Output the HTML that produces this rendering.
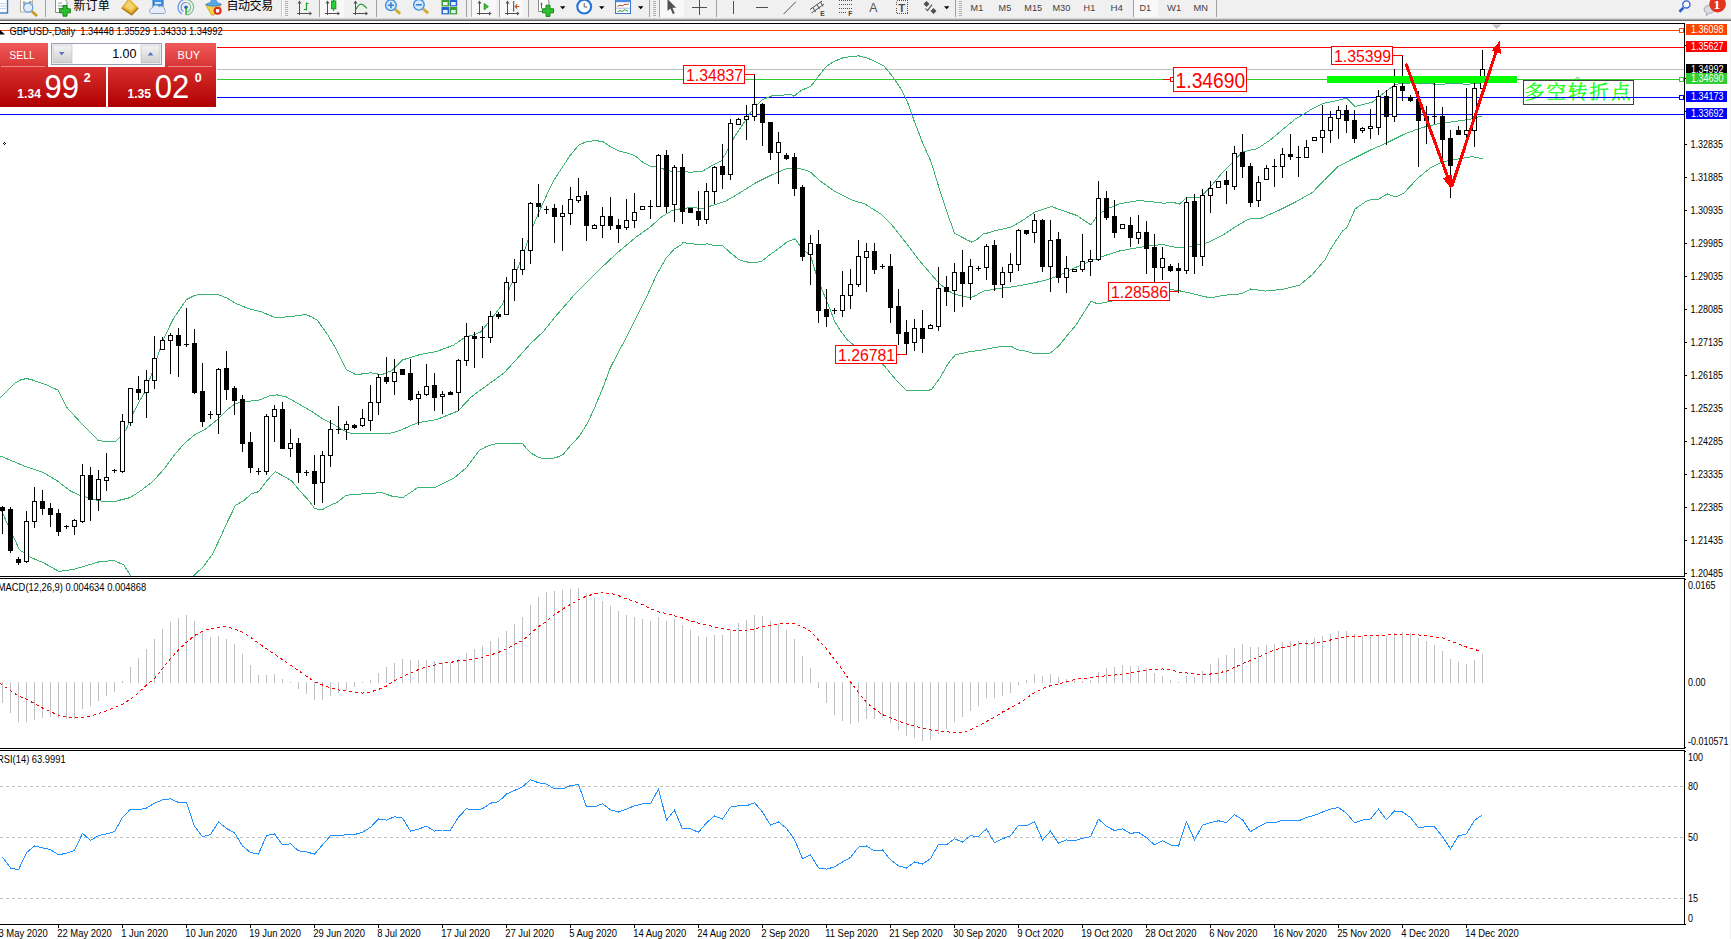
<!DOCTYPE html>
<html lang="zh"><head><meta charset="utf-8"><title>GBPUSD Daily</title>
<style>
html,body{margin:0;padding:0;background:#fff;}
body{width:1731px;height:939px;overflow:hidden;position:relative;font-family:"Liberation Sans","Noto Sans CJK SC",sans-serif;}
svg{position:absolute;left:0;top:0;display:block;}
.ax{font-family:"Liberation Sans",sans-serif;font-size:10.2px;fill:#000;}
.axw{font-family:"Liberation Sans",sans-serif;font-size:10.2px;fill:#fff;}
.cj{font-family:"Liberation Sans","Noto Sans CJK SC",sans-serif;}
</style></head><body>
<svg width="1731" height="939" viewBox="0 0 1731 939">
<rect x="0" y="0" width="1731" height="939" fill="#fff"/>
<defs><clipPath id="cm"><rect x="0" y="24" width="1684" height="552"/></clipPath><clipPath id="cmacd"><rect x="0" y="579" width="1684" height="169"/></clipPath><clipPath id="crsi"><rect x="0" y="751" width="1684" height="173"/></clipPath></defs>
<g shape-rendering="crispEdges">
<rect x="0" y="30" width="1684" height="1" fill="#ff4500"/>
<rect x="0" y="47" width="1684" height="1" fill="#ff0000"/>
<rect x="0" y="69" width="1684" height="1" fill="#c0c0c0"/>
<rect x="0" y="79" width="1684" height="1" fill="#32cd32"/>
<rect x="0" y="97" width="1684" height="1" fill="#0000ff"/>
<rect x="0" y="114" width="1684" height="1" fill="#0000ff"/>
</g>
<g clip-path="url(#cm)" shape-rendering="crispEdges">
<polyline fill="none" stroke="#3cb371" stroke-width="1"  points="-1.5,399.5 0.5,397.5 8.5,389.5 14.5,383.5 20.5,380 26.5,378.5 32.5,380 45.5,384.5 58,390.1 66.5,407.1 82.5,424.5 98.5,440.8 115.5,441.8 119.5,437.5 126.2,429.5 133.5,412.5 141.8,397 145.5,391.1 152.5,371.5 163.1,339.5 173.7,318.2 186.5,299.5 195,295.2 205.7,294.3 218.5,294.8 227,298 235.5,303.3 248.3,308.6 261.1,311.8 276,317.8 290.9,316.5 305.8,314.5 312.2,317.1 317.5,320.5 328.2,335.5 336.7,350.3 346.3,369.5 355.9,374.8 370.8,372.7 381.5,374.8 392.1,370.5 402.7,359.9 419.8,354.6 436.8,351.4 453.9,345 464.5,337.5 475.2,334.3 480.5,332 491.1,319.2 501.8,305.3 512.5,281.9 523.1,254.2 533.7,224.4 540.5,208.5 546.9,194.6 554.3,179.7 561.8,168 570.3,155.2 578.8,145.1 586.3,141.7 592.7,140.9 598,140.9 603.3,141.9 609.7,146.2 619.3,151 631,154.2 636.3,156.8 642.7,162.2 651.3,166.9 656.5,166.9 661.9,168.5 670.5,171.2 682.1,171 689.5,172.3 702.3,171.3 712.9,164.9 721.5,160.6 727.8,150 734.2,137.2 742.7,124.4 751.3,111.6 761.9,99.9 772.5,95.6 791.7,94.6 793.7,96.3 801.1,90.5 810.7,86.3 818.2,76.7 825.6,67.1 833.1,61.8 843.7,57.5 858.7,55.8 867.2,58 875.7,61.8 884.2,66.1 892.7,76.7 901.3,89.5 907.6,102.3 914,120.4 922.5,142.7 931.1,161.9 939.6,189.6 948.1,215.2 954.5,233.3 967.3,240 971.5,242 976.5,239.8 983.3,234 990.5,232.3 996.1,230.4 1011,227.2 1023.7,219.7 1034.4,212.3 1051.4,206.5 1064.2,211.2 1077,215.5 1090.8,225 1098.3,214.4 1106.8,209.1 1119.6,203.7 1138.8,200.5 1153.7,202 1163.3,203.2 1173.9,202.5 1179.3,204.2 1186.7,197.8 1199.5,197.8 1210.1,187.2 1220.8,174.4 1231.4,163.7 1242.1,152 1257,148.8 1269.8,140.3 1282.5,129.7 1295.3,119 1308.1,111.5 1310.5,109.7 1323.3,103.3 1333.9,101.2 1346.7,98 1355.2,106.5 1372.3,102.3 1382.9,93.7 1395.7,84.2 1410.5,83 1425.5,83.7 1438.3,84.2 1455.3,83.7 1468.1,84.2 1482.5,83"/>
<polyline fill="none" stroke="#3cb371" stroke-width="1"  points="-1.5,455.5 0.5,456.1 26.1,466.8 43.1,472.5 56.9,480.6 70.8,491.3 80.5,495.5 98.5,500.8 113.5,501.9 120.5,500 130.1,497.6 141.3,490.4 152.5,481.6 163.6,469.6 174.8,454.5 184.4,443.3 194,435.3 205.7,428.9 216.3,420.5 227,409.8 235.5,403.4 248.3,401.3 258.9,400.2 269.5,395.9 277,394.9 286.5,397 299.5,404.5 311.1,411 323.9,419.5 334.5,424.9 343.1,430.2 351.6,433.8 370.8,433.8 390,433.4 400.6,430.2 417.6,422.7 436.8,419.5 458.1,411 470.9,397.2 480.5,390.1 493.3,380.8 504.5,372.4 517.2,358.5 530,344.1 543.6,331.3 555,317 576.3,292.5 597.6,271.3 616.8,253.2 636,237.2 650.9,226.5 661.5,216.9 672.2,210.5 680.5,208.8 691.6,207.5 702.3,208.5 712.9,205.3 725.7,201.1 738.5,193.6 755.5,183 772.5,174.5 785.3,169.1 793.9,167.6 799,168.3 809.7,171.5 820.3,181.1 835.2,191.7 852.3,200.3 865,204 882.1,214.8 892.7,226 905.5,242.3 918.3,259.3 931.1,274.2 939.6,283.8 952.4,293.4 965.2,296.8 970.5,297.5 975.8,295.5 983.3,291.1 996.1,288.9 1013.1,286.8 1030.1,283.6 1045,280.4 1060,275.1 1072.7,268.7 1089.8,261.3 1106.8,254.9 1119.6,251 1138.8,247.4 1153.7,245.3 1163.3,244.7 1178.2,247.9 1193.1,245.8 1208,242.5 1222.9,235.1 1235.7,226.6 1248.5,219.1 1261.3,218.1 1278.3,210.6 1295.3,202.1 1312.4,192.5 1323.3,181 1338.2,166.4 1353.1,158.7 1370.1,150.2 1387.2,142.7 1404.2,134.2 1421.3,127.8 1438.3,123.6 1455.3,121.4 1470.2,119.3 1482.5,115.8"/>
<polyline fill="none" stroke="#3cb371" stroke-width="1"  points="-1.5,503.5 0.5,508.3 9,527.5 19.5,549.8 30.3,557.3 43.1,562.6 59.1,571.5 75,569 98.5,562 113.5,560.5 120.5,563.4 123.7,564.7 130.9,576.2 136.5,586.5 160.5,600.5 185.5,588.5 193.2,576.2 203.6,566.3 212.4,554.3 219.6,539.1 227.5,521.6 235.5,505.3 243.5,500.8 251.5,493.6 258.7,491.7 267.5,480 275.2,471.7 281.9,475.2 291.5,480.8 299.5,490.4 309,500.8 314.6,508.5 321.8,509.9 331.4,504.8 336.7,502.6 346.3,495.2 360.1,494.1 381.5,492.6 392.1,496.2 402.7,497.7 417.6,487.7 434.7,487.7 453.9,478.1 466.6,467.5 479.4,450.4 486.9,446.3 498.1,443.1 504.5,443.9 522.8,443.9 526.8,448.7 531.6,453.5 539.6,457.8 547.6,458.8 555.6,457.8 562.8,454.8 570,446.3 579.5,435.9 587.5,423.2 595.5,405.6 603.5,386.4 609.9,368.8 616.3,356.1 625.3,339.4 636,318.1 646.6,296.8 657.3,273.4 665.8,258.5 674.3,248.9 680.5,245.3 683.1,242.6 700.5,244.8 706.9,243.8 713.3,245.4 722.9,245.8 729.9,252.4 738.8,259.5 745.2,261.7 754.2,262.9 761.8,261.1 769.5,255 778.5,248.6 787.4,241.6 795.1,238.8 800.2,246.1 806.6,252.4 810.4,255 816.1,274.2 821.9,289.5 828.3,304.8 834.7,321.5 841.1,331.7 847.5,340 854.4,345.6 868.5,355.5 883.7,365 895.5,379.5 907.2,390.9 926,390.9 931.5,389.5 939.8,378.1 948.1,363.6 955.1,355 967.6,352.1 981.4,350.1 999.4,346.7 1011.9,346.7 1017.5,349.7 1027.2,351.4 1034.1,353.9 1045.2,353.9 1050.7,352.8 1059.1,345.5 1067.4,335.2 1075.7,325.5 1084,312.3 1091,301.2 1097.9,304 1108.3,301.7 1130.5,297.5 1150.5,292.5 1169.7,289.4 1178.2,290.5 1193.1,293.7 1210.1,297.9 1222.9,295.4 1242.1,293.7 1250.6,289 1265.5,291.1 1282.5,289.4 1299.6,285.2 1312.4,274.5 1325.2,259.6 1331.5,247.5 1336.1,240.5 1342.5,231.1 1346.7,227.9 1355.2,208.8 1368,200.2 1378.7,199.2 1387.2,193.9 1395.7,197 1404.2,192.8 1417,178.9 1429.8,168.3 1442.5,161.9 1459.6,158.7 1472.4,156.6 1482.5,158.7"/>
</g>
<g shape-rendering="crispEdges" clip-path="url(#cm)">
<rect x="2" y="506" width="1" height="28" fill="#000"/>
<rect x="0" y="507" width="5" height="4" fill="#000"/>
<rect x="10" y="507" width="1" height="46" fill="#000"/>
<rect x="8" y="509" width="5" height="42" fill="#000"/>
<rect x="18" y="557" width="1" height="8" fill="#000"/>
<rect x="16" y="559" width="5" height="4" fill="#000"/>
<rect x="26" y="511" width="1" height="52" fill="#000"/>
<rect x="24" y="521" width="5" height="41" fill="#000"/>
<rect x="25" y="522" width="3" height="39" fill="#fff"/>
<rect x="34" y="487" width="1" height="41" fill="#000"/>
<rect x="32" y="501" width="5" height="21" fill="#000"/>
<rect x="33" y="502" width="3" height="19" fill="#fff"/>
<rect x="42" y="490" width="1" height="25" fill="#000"/>
<rect x="40" y="501" width="5" height="8" fill="#000"/>
<rect x="50" y="503" width="1" height="24" fill="#000"/>
<rect x="48" y="508" width="5" height="7" fill="#000"/>
<rect x="58" y="509" width="1" height="27" fill="#000"/>
<rect x="56" y="513" width="5" height="19" fill="#000"/>
<rect x="66" y="525" width="1" height="4" fill="#000"/>
<rect x="64" y="526" width="5" height="1" fill="#000"/>
<rect x="74" y="519" width="1" height="16" fill="#000"/>
<rect x="72" y="520" width="5" height="7" fill="#000"/>
<rect x="73" y="521" width="3" height="5" fill="#fff"/>
<rect x="82" y="464" width="1" height="59" fill="#000"/>
<rect x="80" y="475" width="5" height="47" fill="#000"/>
<rect x="81" y="476" width="3" height="45" fill="#fff"/>
<rect x="90" y="467" width="1" height="54" fill="#000"/>
<rect x="88" y="475" width="5" height="25" fill="#000"/>
<rect x="98" y="470" width="1" height="41" fill="#000"/>
<rect x="96" y="479" width="5" height="21" fill="#000"/>
<rect x="97" y="480" width="3" height="19" fill="#fff"/>
<rect x="106" y="453" width="1" height="38" fill="#000"/>
<rect x="104" y="477" width="5" height="4" fill="#000"/>
<rect x="105" y="478" width="3" height="2" fill="#fff"/>
<rect x="114" y="469" width="1" height="4" fill="#000"/>
<rect x="112" y="470" width="5" height="1" fill="#000"/>
<rect x="122" y="414" width="1" height="59" fill="#000"/>
<rect x="120" y="421" width="5" height="51" fill="#000"/>
<rect x="121" y="422" width="3" height="49" fill="#fff"/>
<rect x="130" y="388" width="1" height="38" fill="#000"/>
<rect x="128" y="388" width="5" height="35" fill="#000"/>
<rect x="129" y="389" width="3" height="33" fill="#fff"/>
<rect x="138" y="376" width="1" height="24" fill="#000"/>
<rect x="136" y="389" width="5" height="4" fill="#000"/>
<rect x="146" y="370" width="1" height="48" fill="#000"/>
<rect x="144" y="380" width="5" height="13" fill="#000"/>
<rect x="145" y="381" width="3" height="11" fill="#fff"/>
<rect x="154" y="336" width="1" height="53" fill="#000"/>
<rect x="152" y="358" width="5" height="23" fill="#000"/>
<rect x="153" y="359" width="3" height="21" fill="#fff"/>
<rect x="162" y="337" width="1" height="13" fill="#000"/>
<rect x="160" y="340" width="5" height="10" fill="#000"/>
<rect x="161" y="341" width="3" height="8" fill="#fff"/>
<rect x="170" y="333" width="1" height="41" fill="#000"/>
<rect x="168" y="335" width="5" height="6" fill="#000"/>
<rect x="169" y="336" width="3" height="4" fill="#fff"/>
<rect x="178" y="328" width="1" height="49" fill="#000"/>
<rect x="176" y="335" width="5" height="11" fill="#000"/>
<rect x="186" y="308" width="1" height="39" fill="#000"/>
<rect x="184" y="344" width="5" height="1" fill="#000"/>
<rect x="194" y="329" width="1" height="65" fill="#000"/>
<rect x="192" y="343" width="5" height="50" fill="#000"/>
<rect x="202" y="363" width="1" height="64" fill="#000"/>
<rect x="200" y="391" width="5" height="31" fill="#000"/>
<rect x="210" y="411" width="1" height="8" fill="#000"/>
<rect x="208" y="414" width="5" height="1" fill="#000"/>
<rect x="218" y="368" width="1" height="66" fill="#000"/>
<rect x="216" y="369" width="5" height="46" fill="#000"/>
<rect x="217" y="370" width="3" height="44" fill="#fff"/>
<rect x="226" y="351" width="1" height="49" fill="#000"/>
<rect x="224" y="368" width="5" height="22" fill="#000"/>
<rect x="234" y="386" width="1" height="29" fill="#000"/>
<rect x="232" y="388" width="5" height="13" fill="#000"/>
<rect x="242" y="395" width="1" height="57" fill="#000"/>
<rect x="240" y="399" width="5" height="45" fill="#000"/>
<rect x="250" y="432" width="1" height="41" fill="#000"/>
<rect x="248" y="442" width="5" height="26" fill="#000"/>
<rect x="258" y="468" width="1" height="7" fill="#000"/>
<rect x="256" y="471" width="5" height="1" fill="#000"/>
<rect x="266" y="414" width="1" height="61" fill="#000"/>
<rect x="264" y="416" width="5" height="56" fill="#000"/>
<rect x="265" y="417" width="3" height="54" fill="#fff"/>
<rect x="274" y="405" width="1" height="37" fill="#000"/>
<rect x="272" y="409" width="5" height="8" fill="#000"/>
<rect x="273" y="410" width="3" height="6" fill="#fff"/>
<rect x="282" y="402" width="1" height="47" fill="#000"/>
<rect x="280" y="409" width="5" height="40" fill="#000"/>
<rect x="290" y="429" width="1" height="28" fill="#000"/>
<rect x="288" y="443" width="5" height="6" fill="#000"/>
<rect x="289" y="444" width="3" height="4" fill="#fff"/>
<rect x="298" y="438" width="1" height="45" fill="#000"/>
<rect x="296" y="443" width="5" height="30" fill="#000"/>
<rect x="306" y="470" width="1" height="6" fill="#000"/>
<rect x="304" y="472" width="5" height="1" fill="#000"/>
<rect x="314" y="455" width="1" height="50" fill="#000"/>
<rect x="312" y="471" width="5" height="13" fill="#000"/>
<rect x="322" y="451" width="1" height="52" fill="#000"/>
<rect x="320" y="455" width="5" height="28" fill="#000"/>
<rect x="321" y="456" width="3" height="26" fill="#fff"/>
<rect x="330" y="420" width="1" height="47" fill="#000"/>
<rect x="328" y="429" width="5" height="27" fill="#000"/>
<rect x="329" y="430" width="3" height="25" fill="#fff"/>
<rect x="338" y="406" width="1" height="28" fill="#000"/>
<rect x="336" y="429" width="5" height="1" fill="#000"/>
<rect x="346" y="421" width="1" height="19" fill="#000"/>
<rect x="344" y="424" width="5" height="6" fill="#000"/>
<rect x="345" y="425" width="3" height="4" fill="#fff"/>
<rect x="354" y="424" width="1" height="5" fill="#000"/>
<rect x="352" y="425" width="5" height="3" fill="#000"/>
<rect x="362" y="409" width="1" height="18" fill="#000"/>
<rect x="360" y="418" width="5" height="8" fill="#000"/>
<rect x="361" y="419" width="3" height="6" fill="#fff"/>
<rect x="370" y="385" width="1" height="46" fill="#000"/>
<rect x="368" y="402" width="5" height="19" fill="#000"/>
<rect x="369" y="403" width="3" height="17" fill="#fff"/>
<rect x="378" y="374" width="1" height="41" fill="#000"/>
<rect x="376" y="377" width="5" height="26" fill="#000"/>
<rect x="377" y="378" width="3" height="24" fill="#fff"/>
<rect x="386" y="357" width="1" height="27" fill="#000"/>
<rect x="384" y="377" width="5" height="5" fill="#000"/>
<rect x="394" y="359" width="1" height="36" fill="#000"/>
<rect x="392" y="372" width="5" height="10" fill="#000"/>
<rect x="393" y="373" width="3" height="8" fill="#fff"/>
<rect x="402" y="369" width="1" height="6" fill="#000"/>
<rect x="400" y="369" width="5" height="6" fill="#000"/>
<rect x="410" y="359" width="1" height="42" fill="#000"/>
<rect x="408" y="373" width="5" height="27" fill="#000"/>
<rect x="418" y="391" width="1" height="34" fill="#000"/>
<rect x="416" y="394" width="5" height="5" fill="#000"/>
<rect x="417" y="395" width="3" height="3" fill="#fff"/>
<rect x="426" y="364" width="1" height="32" fill="#000"/>
<rect x="424" y="386" width="5" height="9" fill="#000"/>
<rect x="425" y="387" width="3" height="7" fill="#fff"/>
<rect x="434" y="373" width="1" height="38" fill="#000"/>
<rect x="432" y="385" width="5" height="13" fill="#000"/>
<rect x="442" y="391" width="1" height="23" fill="#000"/>
<rect x="440" y="394" width="5" height="3" fill="#000"/>
<rect x="441" y="395" width="3" height="1" fill="#fff"/>
<rect x="450" y="391" width="1" height="4" fill="#000"/>
<rect x="448" y="392" width="5" height="3" fill="#000"/>
<rect x="458" y="359" width="1" height="52" fill="#000"/>
<rect x="456" y="360" width="5" height="33" fill="#000"/>
<rect x="457" y="361" width="3" height="31" fill="#fff"/>
<rect x="466" y="323" width="1" height="43" fill="#000"/>
<rect x="464" y="336" width="5" height="25" fill="#000"/>
<rect x="465" y="337" width="3" height="23" fill="#fff"/>
<rect x="474" y="332" width="1" height="36" fill="#000"/>
<rect x="472" y="336" width="5" height="3" fill="#000"/>
<rect x="482" y="326" width="1" height="32" fill="#000"/>
<rect x="480" y="337" width="5" height="1" fill="#000"/>
<rect x="490" y="311" width="1" height="32" fill="#000"/>
<rect x="488" y="316" width="5" height="22" fill="#000"/>
<rect x="489" y="317" width="3" height="20" fill="#fff"/>
<rect x="498" y="312" width="1" height="7" fill="#000"/>
<rect x="496" y="314" width="5" height="3" fill="#000"/>
<rect x="506" y="277" width="1" height="38" fill="#000"/>
<rect x="504" y="282" width="5" height="33" fill="#000"/>
<rect x="505" y="283" width="3" height="31" fill="#fff"/>
<rect x="514" y="259" width="1" height="42" fill="#000"/>
<rect x="512" y="269" width="5" height="14" fill="#000"/>
<rect x="513" y="270" width="3" height="12" fill="#fff"/>
<rect x="522" y="238" width="1" height="37" fill="#000"/>
<rect x="520" y="250" width="5" height="20" fill="#000"/>
<rect x="521" y="251" width="3" height="18" fill="#fff"/>
<rect x="530" y="202" width="1" height="62" fill="#000"/>
<rect x="528" y="203" width="5" height="48" fill="#000"/>
<rect x="529" y="204" width="3" height="46" fill="#fff"/>
<rect x="538" y="184" width="1" height="33" fill="#000"/>
<rect x="536" y="203" width="5" height="4" fill="#000"/>
<rect x="546" y="206" width="1" height="8" fill="#000"/>
<rect x="544" y="209" width="5" height="1" fill="#000"/>
<rect x="554" y="204" width="1" height="39" fill="#000"/>
<rect x="552" y="208" width="5" height="9" fill="#000"/>
<rect x="562" y="205" width="1" height="46" fill="#000"/>
<rect x="560" y="213" width="5" height="4" fill="#000"/>
<rect x="561" y="214" width="3" height="2" fill="#fff"/>
<rect x="570" y="187" width="1" height="38" fill="#000"/>
<rect x="568" y="199" width="5" height="15" fill="#000"/>
<rect x="569" y="200" width="3" height="13" fill="#fff"/>
<rect x="578" y="178" width="1" height="25" fill="#000"/>
<rect x="576" y="196" width="5" height="5" fill="#000"/>
<rect x="577" y="197" width="3" height="3" fill="#fff"/>
<rect x="586" y="191" width="1" height="50" fill="#000"/>
<rect x="584" y="195" width="5" height="31" fill="#000"/>
<rect x="594" y="224" width="1" height="5" fill="#000"/>
<rect x="592" y="225" width="5" height="4" fill="#000"/>
<rect x="593" y="226" width="3" height="2" fill="#fff"/>
<rect x="602" y="207" width="1" height="31" fill="#000"/>
<rect x="600" y="216" width="5" height="10" fill="#000"/>
<rect x="601" y="217" width="3" height="8" fill="#fff"/>
<rect x="610" y="197" width="1" height="33" fill="#000"/>
<rect x="608" y="216" width="5" height="10" fill="#000"/>
<rect x="618" y="219" width="1" height="24" fill="#000"/>
<rect x="616" y="225" width="5" height="4" fill="#000"/>
<rect x="626" y="199" width="1" height="31" fill="#000"/>
<rect x="624" y="220" width="5" height="8" fill="#000"/>
<rect x="625" y="221" width="3" height="6" fill="#fff"/>
<rect x="634" y="193" width="1" height="35" fill="#000"/>
<rect x="632" y="212" width="5" height="9" fill="#000"/>
<rect x="633" y="213" width="3" height="7" fill="#fff"/>
<rect x="642" y="206" width="1" height="4" fill="#000"/>
<rect x="640" y="206" width="5" height="4" fill="#000"/>
<rect x="641" y="207" width="3" height="2" fill="#fff"/>
<rect x="650" y="200" width="1" height="19" fill="#000"/>
<rect x="648" y="206" width="5" height="1" fill="#000"/>
<rect x="658" y="154" width="1" height="53" fill="#000"/>
<rect x="656" y="155" width="5" height="52" fill="#000"/>
<rect x="657" y="156" width="3" height="50" fill="#fff"/>
<rect x="666" y="150" width="1" height="63" fill="#000"/>
<rect x="664" y="155" width="5" height="52" fill="#000"/>
<rect x="674" y="165" width="1" height="57" fill="#000"/>
<rect x="672" y="167" width="5" height="38" fill="#000"/>
<rect x="673" y="168" width="3" height="36" fill="#fff"/>
<rect x="682" y="154" width="1" height="70" fill="#000"/>
<rect x="680" y="167" width="5" height="45" fill="#000"/>
<rect x="690" y="208" width="1" height="5" fill="#000"/>
<rect x="688" y="208" width="5" height="5" fill="#000"/>
<rect x="698" y="191" width="1" height="35" fill="#000"/>
<rect x="696" y="211" width="5" height="9" fill="#000"/>
<rect x="706" y="183" width="1" height="41" fill="#000"/>
<rect x="704" y="191" width="5" height="29" fill="#000"/>
<rect x="705" y="192" width="3" height="27" fill="#fff"/>
<rect x="714" y="166" width="1" height="38" fill="#000"/>
<rect x="712" y="167" width="5" height="25" fill="#000"/>
<rect x="713" y="168" width="3" height="23" fill="#fff"/>
<rect x="722" y="144" width="1" height="45" fill="#000"/>
<rect x="720" y="166" width="5" height="9" fill="#000"/>
<rect x="730" y="119" width="1" height="61" fill="#000"/>
<rect x="728" y="123" width="5" height="52" fill="#000"/>
<rect x="729" y="124" width="3" height="50" fill="#fff"/>
<rect x="738" y="118" width="1" height="7" fill="#000"/>
<rect x="736" y="119" width="5" height="6" fill="#000"/>
<rect x="737" y="120" width="3" height="4" fill="#fff"/>
<rect x="746" y="105" width="1" height="35" fill="#000"/>
<rect x="744" y="116" width="5" height="4" fill="#000"/>
<rect x="745" y="117" width="3" height="2" fill="#fff"/>
<rect x="754" y="74" width="1" height="47" fill="#000"/>
<rect x="752" y="104" width="5" height="13" fill="#000"/>
<rect x="753" y="105" width="3" height="11" fill="#fff"/>
<rect x="762" y="103" width="1" height="43" fill="#000"/>
<rect x="760" y="104" width="5" height="19" fill="#000"/>
<rect x="770" y="122" width="1" height="38" fill="#000"/>
<rect x="768" y="122" width="5" height="31" fill="#000"/>
<rect x="778" y="132" width="1" height="52" fill="#000"/>
<rect x="776" y="142" width="5" height="11" fill="#000"/>
<rect x="777" y="143" width="3" height="9" fill="#fff"/>
<rect x="786" y="153" width="1" height="7" fill="#000"/>
<rect x="784" y="155" width="5" height="4" fill="#000"/>
<rect x="794" y="153" width="1" height="43" fill="#000"/>
<rect x="792" y="157" width="5" height="32" fill="#000"/>
<rect x="802" y="185" width="1" height="76" fill="#000"/>
<rect x="800" y="187" width="5" height="70" fill="#000"/>
<rect x="810" y="235" width="1" height="50" fill="#000"/>
<rect x="808" y="243" width="5" height="12" fill="#000"/>
<rect x="809" y="244" width="3" height="10" fill="#fff"/>
<rect x="818" y="230" width="1" height="93" fill="#000"/>
<rect x="816" y="244" width="5" height="67" fill="#000"/>
<rect x="826" y="289" width="1" height="38" fill="#000"/>
<rect x="824" y="309" width="5" height="8" fill="#000"/>
<rect x="834" y="308" width="1" height="6" fill="#000"/>
<rect x="832" y="310" width="5" height="1" fill="#000"/>
<rect x="842" y="271" width="1" height="46" fill="#000"/>
<rect x="840" y="295" width="5" height="16" fill="#000"/>
<rect x="841" y="296" width="3" height="14" fill="#fff"/>
<rect x="850" y="269" width="1" height="40" fill="#000"/>
<rect x="848" y="284" width="5" height="12" fill="#000"/>
<rect x="849" y="285" width="3" height="10" fill="#fff"/>
<rect x="858" y="240" width="1" height="47" fill="#000"/>
<rect x="856" y="256" width="5" height="29" fill="#000"/>
<rect x="857" y="257" width="3" height="27" fill="#fff"/>
<rect x="866" y="243" width="1" height="49" fill="#000"/>
<rect x="864" y="251" width="5" height="7" fill="#000"/>
<rect x="865" y="252" width="3" height="5" fill="#fff"/>
<rect x="874" y="243" width="1" height="31" fill="#000"/>
<rect x="872" y="251" width="5" height="19" fill="#000"/>
<rect x="882" y="264" width="1" height="5" fill="#000"/>
<rect x="880" y="266" width="5" height="1" fill="#000"/>
<rect x="890" y="254" width="1" height="69" fill="#000"/>
<rect x="888" y="266" width="5" height="42" fill="#000"/>
<rect x="898" y="289" width="1" height="56" fill="#000"/>
<rect x="896" y="306" width="5" height="28" fill="#000"/>
<rect x="906" y="320" width="1" height="35" fill="#000"/>
<rect x="904" y="332" width="5" height="12" fill="#000"/>
<rect x="914" y="319" width="1" height="32" fill="#000"/>
<rect x="912" y="328" width="5" height="15" fill="#000"/>
<rect x="913" y="329" width="3" height="13" fill="#fff"/>
<rect x="922" y="310" width="1" height="43" fill="#000"/>
<rect x="920" y="328" width="5" height="11" fill="#000"/>
<rect x="930" y="324" width="1" height="5" fill="#000"/>
<rect x="928" y="325" width="5" height="4" fill="#000"/>
<rect x="929" y="326" width="3" height="2" fill="#fff"/>
<rect x="938" y="267" width="1" height="64" fill="#000"/>
<rect x="936" y="288" width="5" height="39" fill="#000"/>
<rect x="937" y="289" width="3" height="37" fill="#fff"/>
<rect x="946" y="276" width="1" height="30" fill="#000"/>
<rect x="944" y="287" width="5" height="5" fill="#000"/>
<rect x="954" y="263" width="1" height="49" fill="#000"/>
<rect x="952" y="272" width="5" height="19" fill="#000"/>
<rect x="953" y="273" width="3" height="17" fill="#fff"/>
<rect x="962" y="250" width="1" height="57" fill="#000"/>
<rect x="960" y="272" width="5" height="12" fill="#000"/>
<rect x="970" y="259" width="1" height="41" fill="#000"/>
<rect x="968" y="266" width="5" height="18" fill="#000"/>
<rect x="969" y="267" width="3" height="16" fill="#fff"/>
<rect x="978" y="266" width="1" height="5" fill="#000"/>
<rect x="976" y="268" width="5" height="1" fill="#000"/>
<rect x="986" y="244" width="1" height="36" fill="#000"/>
<rect x="984" y="246" width="5" height="22" fill="#000"/>
<rect x="985" y="247" width="3" height="20" fill="#fff"/>
<rect x="994" y="240" width="1" height="51" fill="#000"/>
<rect x="992" y="245" width="5" height="40" fill="#000"/>
<rect x="1002" y="267" width="1" height="31" fill="#000"/>
<rect x="1000" y="272" width="5" height="13" fill="#000"/>
<rect x="1001" y="273" width="3" height="11" fill="#fff"/>
<rect x="1010" y="253" width="1" height="29" fill="#000"/>
<rect x="1008" y="264" width="5" height="9" fill="#000"/>
<rect x="1009" y="265" width="3" height="7" fill="#fff"/>
<rect x="1018" y="229" width="1" height="42" fill="#000"/>
<rect x="1016" y="230" width="5" height="35" fill="#000"/>
<rect x="1017" y="231" width="3" height="33" fill="#fff"/>
<rect x="1026" y="230" width="1" height="5" fill="#000"/>
<rect x="1024" y="230" width="5" height="4" fill="#000"/>
<rect x="1034" y="214" width="1" height="29" fill="#000"/>
<rect x="1032" y="220" width="5" height="13" fill="#000"/>
<rect x="1033" y="221" width="3" height="11" fill="#fff"/>
<rect x="1042" y="219" width="1" height="53" fill="#000"/>
<rect x="1040" y="220" width="5" height="47" fill="#000"/>
<rect x="1050" y="220" width="1" height="72" fill="#000"/>
<rect x="1048" y="240" width="5" height="27" fill="#000"/>
<rect x="1049" y="241" width="3" height="25" fill="#fff"/>
<rect x="1058" y="232" width="1" height="51" fill="#000"/>
<rect x="1056" y="239" width="5" height="39" fill="#000"/>
<rect x="1066" y="256" width="1" height="37" fill="#000"/>
<rect x="1064" y="268" width="5" height="10" fill="#000"/>
<rect x="1065" y="269" width="3" height="8" fill="#fff"/>
<rect x="1074" y="269" width="1" height="3" fill="#000"/>
<rect x="1072" y="269" width="5" height="3" fill="#000"/>
<rect x="1073" y="270" width="3" height="1" fill="#fff"/>
<rect x="1082" y="234" width="1" height="38" fill="#000"/>
<rect x="1080" y="261" width="5" height="9" fill="#000"/>
<rect x="1081" y="262" width="3" height="7" fill="#fff"/>
<rect x="1090" y="250" width="1" height="26" fill="#000"/>
<rect x="1088" y="259" width="5" height="3" fill="#000"/>
<rect x="1089" y="260" width="3" height="1" fill="#fff"/>
<rect x="1098" y="181" width="1" height="80" fill="#000"/>
<rect x="1096" y="198" width="5" height="62" fill="#000"/>
<rect x="1097" y="199" width="3" height="60" fill="#fff"/>
<rect x="1106" y="191" width="1" height="29" fill="#000"/>
<rect x="1104" y="198" width="5" height="20" fill="#000"/>
<rect x="1114" y="200" width="1" height="38" fill="#000"/>
<rect x="1112" y="216" width="5" height="17" fill="#000"/>
<rect x="1122" y="224" width="1" height="5" fill="#000"/>
<rect x="1120" y="224" width="5" height="5" fill="#000"/>
<rect x="1121" y="225" width="3" height="3" fill="#fff"/>
<rect x="1130" y="217" width="1" height="30" fill="#000"/>
<rect x="1128" y="225" width="5" height="13" fill="#000"/>
<rect x="1138" y="215" width="1" height="29" fill="#000"/>
<rect x="1136" y="232" width="5" height="7" fill="#000"/>
<rect x="1137" y="233" width="3" height="5" fill="#fff"/>
<rect x="1146" y="221" width="1" height="53" fill="#000"/>
<rect x="1144" y="232" width="5" height="17" fill="#000"/>
<rect x="1154" y="234" width="1" height="57" fill="#000"/>
<rect x="1152" y="247" width="5" height="21" fill="#000"/>
<rect x="1162" y="247" width="1" height="33" fill="#000"/>
<rect x="1160" y="258" width="5" height="10" fill="#000"/>
<rect x="1161" y="259" width="3" height="8" fill="#fff"/>
<rect x="1170" y="264" width="1" height="8" fill="#000"/>
<rect x="1168" y="266" width="5" height="5" fill="#000"/>
<rect x="1178" y="263" width="1" height="30" fill="#000"/>
<rect x="1176" y="268" width="5" height="3" fill="#000"/>
<rect x="1186" y="197" width="1" height="77" fill="#000"/>
<rect x="1184" y="202" width="5" height="69" fill="#000"/>
<rect x="1185" y="203" width="3" height="67" fill="#fff"/>
<rect x="1194" y="194" width="1" height="80" fill="#000"/>
<rect x="1192" y="201" width="5" height="56" fill="#000"/>
<rect x="1202" y="189" width="1" height="77" fill="#000"/>
<rect x="1200" y="195" width="5" height="62" fill="#000"/>
<rect x="1201" y="196" width="3" height="60" fill="#fff"/>
<rect x="1210" y="181" width="1" height="32" fill="#000"/>
<rect x="1208" y="188" width="5" height="8" fill="#000"/>
<rect x="1209" y="189" width="3" height="6" fill="#fff"/>
<rect x="1218" y="181" width="1" height="7" fill="#000"/>
<rect x="1216" y="181" width="5" height="7" fill="#000"/>
<rect x="1217" y="182" width="3" height="5" fill="#fff"/>
<rect x="1226" y="171" width="1" height="33" fill="#000"/>
<rect x="1224" y="180" width="5" height="5" fill="#000"/>
<rect x="1234" y="146" width="1" height="44" fill="#000"/>
<rect x="1232" y="153" width="5" height="34" fill="#000"/>
<rect x="1233" y="154" width="3" height="32" fill="#fff"/>
<rect x="1242" y="134" width="1" height="44" fill="#000"/>
<rect x="1240" y="152" width="5" height="15" fill="#000"/>
<rect x="1250" y="163" width="1" height="44" fill="#000"/>
<rect x="1248" y="166" width="5" height="37" fill="#000"/>
<rect x="1258" y="176" width="1" height="31" fill="#000"/>
<rect x="1256" y="182" width="5" height="19" fill="#000"/>
<rect x="1257" y="183" width="3" height="17" fill="#fff"/>
<rect x="1266" y="165" width="1" height="15" fill="#000"/>
<rect x="1264" y="168" width="5" height="12" fill="#000"/>
<rect x="1265" y="169" width="3" height="10" fill="#fff"/>
<rect x="1274" y="159" width="1" height="28" fill="#000"/>
<rect x="1272" y="166" width="5" height="1" fill="#000"/>
<rect x="1282" y="148" width="1" height="30" fill="#000"/>
<rect x="1280" y="154" width="5" height="13" fill="#000"/>
<rect x="1281" y="155" width="3" height="11" fill="#fff"/>
<rect x="1290" y="134" width="1" height="26" fill="#000"/>
<rect x="1288" y="154" width="5" height="3" fill="#000"/>
<rect x="1298" y="146" width="1" height="31" fill="#000"/>
<rect x="1296" y="157" width="5" height="1" fill="#000"/>
<rect x="1306" y="140" width="1" height="18" fill="#000"/>
<rect x="1304" y="147" width="5" height="11" fill="#000"/>
<rect x="1305" y="148" width="3" height="9" fill="#fff"/>
<rect x="1314" y="137" width="1" height="4" fill="#000"/>
<rect x="1312" y="137" width="5" height="4" fill="#000"/>
<rect x="1313" y="138" width="3" height="2" fill="#fff"/>
<rect x="1322" y="105" width="1" height="48" fill="#000"/>
<rect x="1320" y="130" width="5" height="8" fill="#000"/>
<rect x="1321" y="131" width="3" height="6" fill="#fff"/>
<rect x="1330" y="111" width="1" height="32" fill="#000"/>
<rect x="1328" y="117" width="5" height="14" fill="#000"/>
<rect x="1329" y="118" width="3" height="12" fill="#fff"/>
<rect x="1338" y="106" width="1" height="33" fill="#000"/>
<rect x="1336" y="110" width="5" height="9" fill="#000"/>
<rect x="1337" y="111" width="3" height="7" fill="#fff"/>
<rect x="1346" y="105" width="1" height="28" fill="#000"/>
<rect x="1344" y="110" width="5" height="11" fill="#000"/>
<rect x="1354" y="110" width="1" height="33" fill="#000"/>
<rect x="1352" y="120" width="5" height="19" fill="#000"/>
<rect x="1362" y="127" width="1" height="6" fill="#000"/>
<rect x="1360" y="128" width="5" height="3" fill="#000"/>
<rect x="1361" y="129" width="3" height="1" fill="#fff"/>
<rect x="1370" y="109" width="1" height="30" fill="#000"/>
<rect x="1368" y="126" width="5" height="3" fill="#000"/>
<rect x="1369" y="127" width="3" height="1" fill="#fff"/>
<rect x="1378" y="90" width="1" height="45" fill="#000"/>
<rect x="1376" y="96" width="5" height="32" fill="#000"/>
<rect x="1377" y="97" width="3" height="30" fill="#fff"/>
<rect x="1386" y="90" width="1" height="55" fill="#000"/>
<rect x="1384" y="96" width="5" height="21" fill="#000"/>
<rect x="1394" y="69" width="1" height="53" fill="#000"/>
<rect x="1392" y="86" width="5" height="31" fill="#000"/>
<rect x="1393" y="87" width="3" height="29" fill="#fff"/>
<rect x="1402" y="55" width="1" height="46" fill="#000"/>
<rect x="1400" y="86" width="5" height="5" fill="#000"/>
<rect x="1410" y="95" width="1" height="7" fill="#000"/>
<rect x="1408" y="97" width="5" height="4" fill="#000"/>
<rect x="1418" y="91" width="1" height="76" fill="#000"/>
<rect x="1416" y="99" width="5" height="22" fill="#000"/>
<rect x="1426" y="106" width="1" height="38" fill="#000"/>
<rect x="1424" y="116" width="5" height="5" fill="#000"/>
<rect x="1434" y="83" width="1" height="41" fill="#000"/>
<rect x="1432" y="116" width="5" height="1" fill="#000"/>
<rect x="1442" y="107" width="1" height="52" fill="#000"/>
<rect x="1440" y="116" width="5" height="24" fill="#000"/>
<rect x="1450" y="130" width="1" height="68" fill="#000"/>
<rect x="1448" y="138" width="5" height="28" fill="#000"/>
<rect x="1458" y="126" width="1" height="9" fill="#000"/>
<rect x="1456" y="130" width="5" height="5" fill="#000"/>
<rect x="1466" y="88" width="1" height="50" fill="#000"/>
<rect x="1464" y="130" width="5" height="5" fill="#000"/>
<rect x="1465" y="131" width="3" height="3" fill="#fff"/>
<rect x="1474" y="83" width="1" height="64" fill="#000"/>
<rect x="1472" y="88" width="5" height="43" fill="#000"/>
<rect x="1473" y="89" width="3" height="41" fill="#fff"/>
<rect x="1482" y="50" width="1" height="43" fill="#000"/>
<rect x="1480" y="69" width="5" height="20" fill="#000"/>
<rect x="1481" y="70" width="3" height="18" fill="#fff"/>
</g>
<g shape-rendering="crispEdges" clip-path="url(#cmacd)">
<rect x="2" y="682" width="1" height="21" fill="#c0c0c0"/>
<rect x="10" y="682" width="1" height="31" fill="#c0c0c0"/>
<rect x="18" y="682" width="1" height="40" fill="#c0c0c0"/>
<rect x="26" y="682" width="1" height="40" fill="#c0c0c0"/>
<rect x="34" y="682" width="1" height="38" fill="#c0c0c0"/>
<rect x="42" y="682" width="1" height="36" fill="#c0c0c0"/>
<rect x="50" y="682" width="1" height="35" fill="#c0c0c0"/>
<rect x="58" y="682" width="1" height="36" fill="#c0c0c0"/>
<rect x="66" y="682" width="1" height="37" fill="#c0c0c0"/>
<rect x="74" y="682" width="1" height="37" fill="#c0c0c0"/>
<rect x="82" y="682" width="1" height="27" fill="#c0c0c0"/>
<rect x="90" y="682" width="1" height="24" fill="#c0c0c0"/>
<rect x="98" y="682" width="1" height="19" fill="#c0c0c0"/>
<rect x="106" y="682" width="1" height="14" fill="#c0c0c0"/>
<rect x="114" y="682" width="1" height="10" fill="#c0c0c0"/>
<rect x="122" y="681" width="1" height="2" fill="#c0c0c0"/>
<rect x="130" y="667" width="1" height="16" fill="#c0c0c0"/>
<rect x="138" y="658" width="1" height="25" fill="#c0c0c0"/>
<rect x="146" y="649" width="1" height="34" fill="#c0c0c0"/>
<rect x="154" y="639" width="1" height="44" fill="#c0c0c0"/>
<rect x="162" y="629" width="1" height="54" fill="#c0c0c0"/>
<rect x="170" y="622" width="1" height="61" fill="#c0c0c0"/>
<rect x="178" y="618" width="1" height="65" fill="#c0c0c0"/>
<rect x="186" y="615" width="1" height="68" fill="#c0c0c0"/>
<rect x="194" y="621" width="1" height="62" fill="#c0c0c0"/>
<rect x="202" y="631" width="1" height="52" fill="#c0c0c0"/>
<rect x="210" y="637" width="1" height="46" fill="#c0c0c0"/>
<rect x="218" y="636" width="1" height="47" fill="#c0c0c0"/>
<rect x="226" y="639" width="1" height="44" fill="#c0c0c0"/>
<rect x="234" y="644" width="1" height="39" fill="#c0c0c0"/>
<rect x="242" y="654" width="1" height="29" fill="#c0c0c0"/>
<rect x="250" y="665" width="1" height="18" fill="#c0c0c0"/>
<rect x="258" y="675" width="1" height="8" fill="#c0c0c0"/>
<rect x="266" y="675" width="1" height="8" fill="#c0c0c0"/>
<rect x="274" y="674" width="1" height="9" fill="#c0c0c0"/>
<rect x="282" y="679" width="1" height="4" fill="#c0c0c0"/>
<rect x="290" y="682" width="1" height="1" fill="#c0c0c0"/>
<rect x="298" y="682" width="1" height="7" fill="#c0c0c0"/>
<rect x="306" y="682" width="1" height="12" fill="#c0c0c0"/>
<rect x="314" y="682" width="1" height="18" fill="#c0c0c0"/>
<rect x="322" y="682" width="1" height="18" fill="#c0c0c0"/>
<rect x="330" y="682" width="1" height="14" fill="#c0c0c0"/>
<rect x="338" y="682" width="1" height="11" fill="#c0c0c0"/>
<rect x="346" y="682" width="1" height="8" fill="#c0c0c0"/>
<rect x="354" y="682" width="1" height="5" fill="#c0c0c0"/>
<rect x="362" y="682" width="1" height="1" fill="#c0c0c0"/>
<rect x="370" y="680" width="1" height="3" fill="#c0c0c0"/>
<rect x="378" y="673" width="1" height="10" fill="#c0c0c0"/>
<rect x="386" y="667" width="1" height="16" fill="#c0c0c0"/>
<rect x="394" y="663" width="1" height="20" fill="#c0c0c0"/>
<rect x="402" y="659" width="1" height="24" fill="#c0c0c0"/>
<rect x="410" y="660" width="1" height="23" fill="#c0c0c0"/>
<rect x="418" y="660" width="1" height="23" fill="#c0c0c0"/>
<rect x="426" y="660" width="1" height="23" fill="#c0c0c0"/>
<rect x="434" y="661" width="1" height="22" fill="#c0c0c0"/>
<rect x="442" y="662" width="1" height="21" fill="#c0c0c0"/>
<rect x="450" y="663" width="1" height="20" fill="#c0c0c0"/>
<rect x="458" y="659" width="1" height="24" fill="#c0c0c0"/>
<rect x="466" y="653" width="1" height="30" fill="#c0c0c0"/>
<rect x="474" y="649" width="1" height="34" fill="#c0c0c0"/>
<rect x="482" y="646" width="1" height="37" fill="#c0c0c0"/>
<rect x="490" y="641" width="1" height="42" fill="#c0c0c0"/>
<rect x="498" y="638" width="1" height="45" fill="#c0c0c0"/>
<rect x="506" y="631" width="1" height="52" fill="#c0c0c0"/>
<rect x="514" y="624" width="1" height="59" fill="#c0c0c0"/>
<rect x="522" y="617" width="1" height="66" fill="#c0c0c0"/>
<rect x="530" y="605" width="1" height="78" fill="#c0c0c0"/>
<rect x="538" y="597" width="1" height="86" fill="#c0c0c0"/>
<rect x="546" y="592" width="1" height="91" fill="#c0c0c0"/>
<rect x="554" y="591" width="1" height="92" fill="#c0c0c0"/>
<rect x="562" y="590" width="1" height="93" fill="#c0c0c0"/>
<rect x="570" y="589" width="1" height="94" fill="#c0c0c0"/>
<rect x="578" y="588" width="1" height="95" fill="#c0c0c0"/>
<rect x="586" y="593" width="1" height="90" fill="#c0c0c0"/>
<rect x="594" y="598" width="1" height="85" fill="#c0c0c0"/>
<rect x="602" y="601" width="1" height="82" fill="#c0c0c0"/>
<rect x="610" y="606" width="1" height="77" fill="#c0c0c0"/>
<rect x="618" y="611" width="1" height="72" fill="#c0c0c0"/>
<rect x="626" y="615" width="1" height="68" fill="#c0c0c0"/>
<rect x="634" y="617" width="1" height="66" fill="#c0c0c0"/>
<rect x="642" y="619" width="1" height="64" fill="#c0c0c0"/>
<rect x="650" y="621" width="1" height="62" fill="#c0c0c0"/>
<rect x="658" y="617" width="1" height="66" fill="#c0c0c0"/>
<rect x="666" y="621" width="1" height="62" fill="#c0c0c0"/>
<rect x="674" y="619" width="1" height="64" fill="#c0c0c0"/>
<rect x="682" y="625" width="1" height="58" fill="#c0c0c0"/>
<rect x="690" y="630" width="1" height="53" fill="#c0c0c0"/>
<rect x="698" y="636" width="1" height="47" fill="#c0c0c0"/>
<rect x="706" y="637" width="1" height="46" fill="#c0c0c0"/>
<rect x="714" y="635" width="1" height="48" fill="#c0c0c0"/>
<rect x="722" y="635" width="1" height="48" fill="#c0c0c0"/>
<rect x="730" y="630" width="1" height="53" fill="#c0c0c0"/>
<rect x="738" y="623" width="1" height="60" fill="#c0c0c0"/>
<rect x="746" y="620" width="1" height="63" fill="#c0c0c0"/>
<rect x="754" y="615" width="1" height="68" fill="#c0c0c0"/>
<rect x="762" y="616" width="1" height="67" fill="#c0c0c0"/>
<rect x="770" y="621" width="1" height="62" fill="#c0c0c0"/>
<rect x="778" y="624" width="1" height="59" fill="#c0c0c0"/>
<rect x="786" y="630" width="1" height="53" fill="#c0c0c0"/>
<rect x="794" y="639" width="1" height="44" fill="#c0c0c0"/>
<rect x="802" y="656" width="1" height="27" fill="#c0c0c0"/>
<rect x="810" y="668" width="1" height="15" fill="#c0c0c0"/>
<rect x="818" y="682" width="1" height="6" fill="#c0c0c0"/>
<rect x="826" y="682" width="1" height="21" fill="#c0c0c0"/>
<rect x="834" y="682" width="1" height="33" fill="#c0c0c0"/>
<rect x="842" y="682" width="1" height="39" fill="#c0c0c0"/>
<rect x="850" y="682" width="1" height="42" fill="#c0c0c0"/>
<rect x="858" y="682" width="1" height="40" fill="#c0c0c0"/>
<rect x="866" y="682" width="1" height="37" fill="#c0c0c0"/>
<rect x="874" y="682" width="1" height="37" fill="#c0c0c0"/>
<rect x="882" y="682" width="1" height="36" fill="#c0c0c0"/>
<rect x="890" y="682" width="1" height="41" fill="#c0c0c0"/>
<rect x="898" y="682" width="1" height="48" fill="#c0c0c0"/>
<rect x="906" y="682" width="1" height="54" fill="#c0c0c0"/>
<rect x="914" y="682" width="1" height="56" fill="#c0c0c0"/>
<rect x="922" y="682" width="1" height="59" fill="#c0c0c0"/>
<rect x="930" y="682" width="1" height="58" fill="#c0c0c0"/>
<rect x="938" y="682" width="1" height="52" fill="#c0c0c0"/>
<rect x="946" y="682" width="1" height="47" fill="#c0c0c0"/>
<rect x="954" y="682" width="1" height="40" fill="#c0c0c0"/>
<rect x="962" y="682" width="1" height="35" fill="#c0c0c0"/>
<rect x="970" y="682" width="1" height="29" fill="#c0c0c0"/>
<rect x="978" y="682" width="1" height="24" fill="#c0c0c0"/>
<rect x="986" y="682" width="1" height="16" fill="#c0c0c0"/>
<rect x="994" y="682" width="1" height="16" fill="#c0c0c0"/>
<rect x="1002" y="682" width="1" height="14" fill="#c0c0c0"/>
<rect x="1010" y="682" width="1" height="11" fill="#c0c0c0"/>
<rect x="1018" y="682" width="1" height="3" fill="#c0c0c0"/>
<rect x="1026" y="680" width="1" height="3" fill="#c0c0c0"/>
<rect x="1034" y="674" width="1" height="9" fill="#c0c0c0"/>
<rect x="1042" y="676" width="1" height="7" fill="#c0c0c0"/>
<rect x="1050" y="674" width="1" height="9" fill="#c0c0c0"/>
<rect x="1058" y="677" width="1" height="6" fill="#c0c0c0"/>
<rect x="1066" y="679" width="1" height="4" fill="#c0c0c0"/>
<rect x="1074" y="681" width="1" height="2" fill="#c0c0c0"/>
<rect x="1082" y="681" width="1" height="2" fill="#c0c0c0"/>
<rect x="1090" y="680" width="1" height="3" fill="#c0c0c0"/>
<rect x="1098" y="672" width="1" height="11" fill="#c0c0c0"/>
<rect x="1106" y="668" width="1" height="15" fill="#c0c0c0"/>
<rect x="1114" y="667" width="1" height="16" fill="#c0c0c0"/>
<rect x="1122" y="665" width="1" height="18" fill="#c0c0c0"/>
<rect x="1130" y="666" width="1" height="17" fill="#c0c0c0"/>
<rect x="1138" y="666" width="1" height="17" fill="#c0c0c0"/>
<rect x="1146" y="668" width="1" height="15" fill="#c0c0c0"/>
<rect x="1154" y="673" width="1" height="10" fill="#c0c0c0"/>
<rect x="1162" y="676" width="1" height="7" fill="#c0c0c0"/>
<rect x="1170" y="680" width="1" height="3" fill="#c0c0c0"/>
<rect x="1178" y="682" width="1" height="1" fill="#c0c0c0"/>
<rect x="1186" y="676" width="1" height="7" fill="#c0c0c0"/>
<rect x="1194" y="677" width="1" height="6" fill="#c0c0c0"/>
<rect x="1202" y="671" width="1" height="12" fill="#c0c0c0"/>
<rect x="1210" y="664" width="1" height="19" fill="#c0c0c0"/>
<rect x="1218" y="658" width="1" height="25" fill="#c0c0c0"/>
<rect x="1226" y="655" width="1" height="28" fill="#c0c0c0"/>
<rect x="1234" y="648" width="1" height="35" fill="#c0c0c0"/>
<rect x="1242" y="644" width="1" height="39" fill="#c0c0c0"/>
<rect x="1250" y="647" width="1" height="36" fill="#c0c0c0"/>
<rect x="1258" y="647" width="1" height="36" fill="#c0c0c0"/>
<rect x="1266" y="645" width="1" height="38" fill="#c0c0c0"/>
<rect x="1274" y="644" width="1" height="39" fill="#c0c0c0"/>
<rect x="1282" y="642" width="1" height="41" fill="#c0c0c0"/>
<rect x="1290" y="641" width="1" height="42" fill="#c0c0c0"/>
<rect x="1298" y="641" width="1" height="42" fill="#c0c0c0"/>
<rect x="1306" y="640" width="1" height="43" fill="#c0c0c0"/>
<rect x="1314" y="638" width="1" height="45" fill="#c0c0c0"/>
<rect x="1322" y="636" width="1" height="47" fill="#c0c0c0"/>
<rect x="1330" y="634" width="1" height="49" fill="#c0c0c0"/>
<rect x="1338" y="631" width="1" height="52" fill="#c0c0c0"/>
<rect x="1346" y="631" width="1" height="52" fill="#c0c0c0"/>
<rect x="1354" y="634" width="1" height="49" fill="#c0c0c0"/>
<rect x="1362" y="636" width="1" height="47" fill="#c0c0c0"/>
<rect x="1370" y="637" width="1" height="46" fill="#c0c0c0"/>
<rect x="1378" y="635" width="1" height="48" fill="#c0c0c0"/>
<rect x="1386" y="636" width="1" height="47" fill="#c0c0c0"/>
<rect x="1394" y="633" width="1" height="50" fill="#c0c0c0"/>
<rect x="1402" y="632" width="1" height="51" fill="#c0c0c0"/>
<rect x="1410" y="633" width="1" height="50" fill="#c0c0c0"/>
<rect x="1418" y="638" width="1" height="45" fill="#c0c0c0"/>
<rect x="1426" y="641" width="1" height="42" fill="#c0c0c0"/>
<rect x="1434" y="645" width="1" height="38" fill="#c0c0c0"/>
<rect x="1442" y="651" width="1" height="32" fill="#c0c0c0"/>
<rect x="1450" y="659" width="1" height="24" fill="#c0c0c0"/>
<rect x="1458" y="662" width="1" height="21" fill="#c0c0c0"/>
<rect x="1466" y="664" width="1" height="19" fill="#c0c0c0"/>
<rect x="1474" y="660" width="1" height="23" fill="#c0c0c0"/>
<rect x="1482" y="654" width="1" height="29" fill="#c0c0c0"/>
<polyline fill="none" stroke="#ff0000" stroke-width="1" stroke-dasharray="3 3" points="-5.5,680.5 0.5,683.9 10.4,690.5 18.5,696 26.5,699.2 34.5,703.6 42.5,708 50.5,711.8 58.5,715.1 66.5,717.2 74.5,717.9 82.5,717.9 90.5,716.2 98.5,713.5 106.5,710.9 114.5,707.6 122.5,704.1 130.5,699.2 138.5,692.7 146.5,685 154.5,678.4 162.5,668.5 170.5,658.6 178.5,649.9 186.5,642.2 194.5,635.6 202.5,631.2 210.5,628.5 218.5,627.2 226.5,626.8 234.5,629 242.5,632.3 250.5,637.3 258.5,643.3 266.5,648.7 274.5,654.2 282.5,659.7 290.5,665.2 298.5,670.7 306.5,676.2 314.5,681.7 322.5,685 330.5,687.8 338.5,690 346.5,691.1 354.5,692 362.5,693.1 370.5,692 378.5,689.4 386.5,686.1 394.5,680.6 402.5,676.6 410.5,673.3 418.5,669.6 426.5,666.8 434.5,665.2 442.5,663 450.5,662.4 458.5,660.8 466.5,660.2 474.5,658.6 482.5,657.1 490.5,654.9 498.5,652.5 506.5,648.8 514.5,644.4 522.5,640.6 530.5,633.4 538.5,626.8 546.5,621.3 554.5,614.7 562.5,609.2 570.5,604.4 578.5,599.8 586.5,596.1 594.5,593.9 602.5,592.8 610.5,593.4 618.5,595.6 626.5,598.9 634.5,601.6 642.5,604.4 650.5,608.8 658.5,611.9 666.5,613.6 674.5,615.8 682.5,618 690.5,620.9 698.5,623.1 706.5,625 714.5,626.8 722.5,628.6 730.5,630.1 738.5,630.1 746.5,630.1 754.5,629 762.5,626.8 770.5,625.3 778.5,623.9 786.5,623.9 794.5,623.9 802.5,626.8 810.5,631.2 818.5,640 826.5,648.8 834.5,659.7 842.5,669.6 850.5,681.7 858.5,692.7 866.5,702.5 874.5,709.1 882.5,714.6 890.5,717.9 898.5,721.2 906.5,723.8 914.5,726 922.5,728.2 930.5,730 938.5,731.1 946.5,731.7 954.5,732.8 962.5,732.2 970.5,730 978.5,725.6 986.5,721.6 994.5,717.2 1002.5,712 1010.5,708 1018.5,703.6 1026.5,698.1 1034.5,692.7 1042.5,688.7 1050.5,685.6 1058.5,683.9 1066.5,681.7 1074.5,679.5 1082.5,678.4 1090.5,677.9 1098.5,676.6 1106.5,675.7 1114.5,675.1 1122.5,674 1130.5,672.9 1138.5,671.8 1146.5,670.3 1154.5,669.2 1162.5,669 1170.5,669.6 1178.5,672.2 1186.5,672.9 1194.5,674 1202.5,674 1210.5,674 1218.5,672.9 1226.5,671.1 1234.5,667.4 1242.5,663.7 1250.5,660.2 1258.5,657.1 1266.5,653.1 1274.5,649.9 1282.5,647.7 1290.5,646.1 1298.5,643.9 1306.5,643.9 1314.5,642.8 1322.5,641.7 1330.5,640 1338.5,638.2 1346.5,636.7 1354.5,636.2 1362.5,636 1370.5,635.1 1378.5,635.1 1386.5,635.1 1394.5,634.5 1402.5,634 1410.5,634 1418.5,634.9 1426.5,636 1434.5,637.1 1442.5,637.8 1450.5,641.1 1458.5,643.9 1466.5,647 1474.5,649.2 1482.5,652.3"/>
</g>
<g shape-rendering="crispEdges" clip-path="url(#crsi)">
<line x1="0" y1="786.5" x2="1684" y2="786.5" stroke="#c0c0c0" stroke-width="1" stroke-dasharray="3 3"/>
<line x1="0" y1="837.5" x2="1684" y2="837.5" stroke="#c0c0c0" stroke-width="1" stroke-dasharray="3 3"/>
<line x1="0" y1="898.5" x2="1684" y2="898.5" stroke="#c0c0c0" stroke-width="1" stroke-dasharray="3 3"/>
<polyline fill="none" stroke="#1e90ff" stroke-width="1"  points="2.5,857 10.5,868 18.5,869.7 26.5,852.6 34.5,846 42.5,847.8 50.5,849.7 58.5,854.8 66.5,853.2 74.5,850.4 82.5,833.3 90.5,840.5 98.5,835.5 106.5,833.9 114.5,831.7 122.5,817.5 130.5,809.1 138.5,809.8 146.5,808 154.5,803.2 162.5,799.9 170.5,798.8 178.5,802.5 186.5,802.7 194.5,826.2 202.5,836.8 210.5,834.6 218.5,821.9 226.5,828.4 234.5,832.8 242.5,846 250.5,852.6 258.5,854.1 266.5,835.5 274.5,833.9 282.5,844.9 290.5,843.8 298.5,850.8 306.5,851.9 314.5,854.1 322.5,844.9 330.5,835.7 338.5,835.7 346.5,834.6 354.5,834.6 362.5,832.2 370.5,827.3 378.5,819 386.5,820.1 394.5,816.8 402.5,818.1 410.5,831.1 418.5,829.1 426.5,826.2 434.5,831.1 442.5,830 450.5,830 458.5,817 466.5,808.7 474.5,810 482.5,808.7 490.5,803.2 498.5,801.7 506.5,794 514.5,790.5 522.5,786.7 530.5,779.7 538.5,782.8 546.5,784.1 554.5,788.9 562.5,788.9 570.5,785.6 578.5,784.5 586.5,806.9 594.5,806.9 602.5,803.8 610.5,809.8 618.5,812 626.5,809.1 634.5,805.8 642.5,803.8 650.5,803.8 658.5,788.9 666.5,820.1 674.5,810.2 682.5,828.9 690.5,828.9 698.5,832.2 706.5,822.9 714.5,815.9 722.5,819 730.5,807.1 738.5,805.8 746.5,805.8 754.5,802.7 762.5,812 770.5,825.1 778.5,821.9 786.5,828.4 794.5,839.4 802.5,858.7 810.5,854.8 818.5,868 826.5,869.1 834.5,866.9 842.5,862 850.5,857.4 858.5,847.1 866.5,846 874.5,851 882.5,850 890.5,859.8 898.5,865.8 906.5,868 914.5,862 922.5,864 930.5,858.7 938.5,844.2 946.5,844.9 954.5,838.8 962.5,842 970.5,835.7 978.5,836.6 986.5,828.9 994.5,842.7 1002.5,838.8 1010.5,835.7 1018.5,825.1 1026.5,825.8 1034.5,821.9 1042.5,839.9 1050.5,831.1 1058.5,843.1 1066.5,839.9 1074.5,840.9 1082.5,838.3 1090.5,836.8 1098.5,819.2 1106.5,826.2 1114.5,830.6 1122.5,828.9 1130.5,833.5 1138.5,832.2 1146.5,837.7 1154.5,844.9 1162.5,840.9 1170.5,844.9 1178.5,846 1186.5,821.9 1194.5,839.9 1202.5,825.1 1210.5,822.5 1218.5,820.8 1226.5,822.5 1234.5,814.8 1242.5,819.7 1250.5,831.7 1258.5,826.7 1266.5,822.9 1274.5,822.9 1282.5,820.1 1290.5,820.8 1298.5,820.8 1306.5,817.5 1314.5,815.3 1322.5,812 1330.5,809.1 1338.5,807.6 1346.5,813.1 1354.5,822.9 1362.5,820.1 1370.5,819 1378.5,809.1 1386.5,819.7 1394.5,810.9 1402.5,812 1410.5,817.5 1418.5,827.8 1426.5,826.7 1434.5,826.7 1442.5,836.8 1450.5,848.9 1458.5,835.7 1466.5,833.9 1474.5,820.3 1482.5,814.8"/>
</g>
<g shape-rendering="crispEdges" fill="#000">
<rect x="0" y="23" width="1685" height="1"/>
<rect x="1684" y="23" width="1" height="902"/>
<rect x="0" y="576" width="1685" height="1"/>
<rect x="0" y="578" width="1685" height="1"/>
<rect x="0" y="748" width="1685" height="1"/>
<rect x="0" y="750" width="1685" height="1"/>
<rect x="0" y="924" width="1686" height="1"/>
<rect x="1684" y="577" width="1" height="1" fill="#fff"/><rect x="1684" y="749" width="1" height="1" fill="#fff"/>
</g>
<g shape-rendering="crispEdges" fill="#000">
<rect x="1685" y="45" width="2" height="1"/>
<rect x="1685" y="78" width="2" height="1"/>
<rect x="1685" y="111" width="2" height="1"/>
<rect x="1685" y="144" width="2" height="1"/>
<rect x="1685" y="177" width="2" height="1"/>
<rect x="1685" y="210" width="2" height="1"/>
<rect x="1685" y="243" width="2" height="1"/>
<rect x="1685" y="276" width="2" height="1"/>
<rect x="1685" y="309" width="2" height="1"/>
<rect x="1685" y="342" width="2" height="1"/>
<rect x="1685" y="375" width="2" height="1"/>
<rect x="1685" y="408" width="2" height="1"/>
<rect x="1685" y="441" width="2" height="1"/>
<rect x="1685" y="474" width="2" height="1"/>
<rect x="1685" y="507" width="2" height="1"/>
<rect x="1685" y="540" width="2" height="1"/>
<rect x="1685" y="573" width="2" height="1"/>
<rect x="1685" y="579" width="1" height="1"/><rect x="1685" y="747" width="1" height="1"/><rect x="1685" y="751" width="1" height="1"/>
</g>
<text class="ax" x="1690.4" y="148" textLength="32.5" lengthAdjust="spacingAndGlyphs" xml:space="preserve">1.32835</text>
<text class="ax" x="1690.4" y="181" textLength="32.5" lengthAdjust="spacingAndGlyphs" xml:space="preserve">1.31885</text>
<text class="ax" x="1690.4" y="214" textLength="32.5" lengthAdjust="spacingAndGlyphs" xml:space="preserve">1.30935</text>
<text class="ax" x="1690.4" y="247" textLength="32.5" lengthAdjust="spacingAndGlyphs" xml:space="preserve">1.29985</text>
<text class="ax" x="1690.4" y="280" textLength="32.5" lengthAdjust="spacingAndGlyphs" xml:space="preserve">1.29035</text>
<text class="ax" x="1690.4" y="313" textLength="32.5" lengthAdjust="spacingAndGlyphs" xml:space="preserve">1.28085</text>
<text class="ax" x="1690.4" y="346" textLength="32.5" lengthAdjust="spacingAndGlyphs" xml:space="preserve">1.27135</text>
<text class="ax" x="1690.4" y="379" textLength="32.5" lengthAdjust="spacingAndGlyphs" xml:space="preserve">1.26185</text>
<text class="ax" x="1690.4" y="412" textLength="32.5" lengthAdjust="spacingAndGlyphs" xml:space="preserve">1.25235</text>
<text class="ax" x="1690.4" y="445" textLength="32.5" lengthAdjust="spacingAndGlyphs" xml:space="preserve">1.24285</text>
<text class="ax" x="1690.4" y="478" textLength="32.5" lengthAdjust="spacingAndGlyphs" xml:space="preserve">1.23335</text>
<text class="ax" x="1690.4" y="511" textLength="32.5" lengthAdjust="spacingAndGlyphs" xml:space="preserve">1.22385</text>
<text class="ax" x="1690.4" y="544" textLength="32.5" lengthAdjust="spacingAndGlyphs" xml:space="preserve">1.21435</text>
<text class="ax" x="1690.4" y="577" textLength="32.5" lengthAdjust="spacingAndGlyphs" xml:space="preserve">1.20485</text>
<text class="ax" x="1688" y="589.4" textLength="27.5" lengthAdjust="spacingAndGlyphs" xml:space="preserve">0.0165</text>
<text class="ax" x="1688" y="686" textLength="17.5" lengthAdjust="spacingAndGlyphs" xml:space="preserve">0.00</text>
<text class="ax" x="1688" y="744.9" textLength="40.4" lengthAdjust="spacingAndGlyphs" xml:space="preserve">-0.010571</text>
<text class="ax" x="1688" y="760.8" textLength="15.0" lengthAdjust="spacingAndGlyphs" xml:space="preserve">100</text>
<text class="ax" x="1688" y="790" textLength="10.0" lengthAdjust="spacingAndGlyphs" xml:space="preserve">80</text>
<text class="ax" x="1688" y="841" textLength="10.0" lengthAdjust="spacingAndGlyphs" xml:space="preserve">50</text>
<text class="ax" x="1688" y="902" textLength="10.0" lengthAdjust="spacingAndGlyphs" xml:space="preserve">15</text>
<text class="ax" x="1688" y="921.5" textLength="5.0" lengthAdjust="spacingAndGlyphs" xml:space="preserve">0</text>
<rect x="1686" y="24" width="41" height="11" fill="#ff4500" shape-rendering="crispEdges"/>
<text class="axw" x="1691" y="33" textLength="32.5" lengthAdjust="spacingAndGlyphs" xml:space="preserve">1.36098</text>
<rect x="1686" y="41" width="41" height="11" fill="#ff0000" shape-rendering="crispEdges"/>
<text class="axw" x="1691" y="50" textLength="32.5" lengthAdjust="spacingAndGlyphs" xml:space="preserve">1.35627</text>
<rect x="1686" y="64" width="41" height="11" fill="#000000" shape-rendering="crispEdges"/>
<text class="axw" x="1691" y="73" textLength="32.5" lengthAdjust="spacingAndGlyphs" xml:space="preserve">1.34992</text>
<rect x="1686" y="73" width="41" height="11" fill="#32cd32" shape-rendering="crispEdges"/>
<text class="axw" x="1691" y="82" textLength="32.5" lengthAdjust="spacingAndGlyphs" xml:space="preserve">1.34690</text>
<rect x="1686" y="91" width="41" height="11" fill="#0000ff" shape-rendering="crispEdges"/>
<text class="axw" x="1691" y="100" textLength="32.5" lengthAdjust="spacingAndGlyphs" xml:space="preserve">1.34173</text>
<rect x="1686" y="108" width="41" height="11" fill="#0000ff" shape-rendering="crispEdges"/>
<text class="axw" x="1691" y="117" textLength="32.5" lengthAdjust="spacingAndGlyphs" xml:space="preserve">1.33692</text>
<rect x="1679.5" y="28.5" width="4" height="4" fill="#fff" stroke="#ff4500" stroke-width="1" shape-rendering="crispEdges"/>
<rect x="1679.5" y="77.5" width="4" height="4" fill="#fff" stroke="#32cd32" stroke-width="1" shape-rendering="crispEdges"/>
<rect x="1679.5" y="95.5" width="4" height="4" fill="#fff" stroke="#0000ff" stroke-width="1" shape-rendering="crispEdges"/>
<g shape-rendering="crispEdges" fill="#000">
<rect x="58" y="925" width="1" height="3"/>
<rect x="122" y="925" width="1" height="3"/>
<rect x="186" y="925" width="1" height="3"/>
<rect x="250" y="925" width="1" height="3"/>
<rect x="314" y="925" width="1" height="3"/>
<rect x="378" y="925" width="1" height="3"/>
<rect x="442" y="925" width="1" height="3"/>
<rect x="506" y="925" width="1" height="3"/>
<rect x="570" y="925" width="1" height="3"/>
<rect x="634" y="925" width="1" height="3"/>
<rect x="698" y="925" width="1" height="3"/>
<rect x="762" y="925" width="1" height="3"/>
<rect x="826" y="925" width="1" height="3"/>
<rect x="890" y="925" width="1" height="3"/>
<rect x="954" y="925" width="1" height="3"/>
<rect x="1018" y="925" width="1" height="3"/>
<rect x="1082" y="925" width="1" height="3"/>
<rect x="1146" y="925" width="1" height="3"/>
<rect x="1210" y="925" width="1" height="3"/>
<rect x="1274" y="925" width="1" height="3"/>
<rect x="1338" y="925" width="1" height="3"/>
<rect x="1402" y="925" width="1" height="3"/>
<rect x="1466" y="925" width="1" height="3"/>
</g>
<text class="ax" x="-6.8" y="936.6" textLength="54.6" lengthAdjust="spacingAndGlyphs" xml:space="preserve">13 May 2020</text>
<text class="ax" x="57.2" y="936.6" textLength="54.6" lengthAdjust="spacingAndGlyphs" xml:space="preserve">22 May 2020</text>
<text class="ax" x="121.2" y="936.6" textLength="46.7" lengthAdjust="spacingAndGlyphs" xml:space="preserve">1 Jun 2020</text>
<text class="ax" x="185.2" y="936.6" textLength="51.9" lengthAdjust="spacingAndGlyphs" xml:space="preserve">10 Jun 2020</text>
<text class="ax" x="249.2" y="936.6" textLength="51.9" lengthAdjust="spacingAndGlyphs" xml:space="preserve">19 Jun 2020</text>
<text class="ax" x="313.2" y="936.6" textLength="51.9" lengthAdjust="spacingAndGlyphs" xml:space="preserve">29 Jun 2020</text>
<text class="ax" x="377.2" y="936.6" textLength="43.5" lengthAdjust="spacingAndGlyphs" xml:space="preserve">8 Jul 2020</text>
<text class="ax" x="441.2" y="936.6" textLength="48.8" lengthAdjust="spacingAndGlyphs" xml:space="preserve">17 Jul 2020</text>
<text class="ax" x="505.2" y="936.6" textLength="48.8" lengthAdjust="spacingAndGlyphs" xml:space="preserve">27 Jul 2020</text>
<text class="ax" x="569.2" y="936.6" textLength="47.8" lengthAdjust="spacingAndGlyphs" xml:space="preserve">5 Aug 2020</text>
<text class="ax" x="633.2" y="936.6" textLength="53.0" lengthAdjust="spacingAndGlyphs" xml:space="preserve">14 Aug 2020</text>
<text class="ax" x="697.2" y="936.6" textLength="53.0" lengthAdjust="spacingAndGlyphs" xml:space="preserve">24 Aug 2020</text>
<text class="ax" x="761.2" y="936.6" textLength="48.3" lengthAdjust="spacingAndGlyphs" xml:space="preserve">2 Sep 2020</text>
<text class="ax" x="825.2" y="936.6" textLength="52.8" lengthAdjust="spacingAndGlyphs" xml:space="preserve">11 Sep 2020</text>
<text class="ax" x="889.2" y="936.6" textLength="53.5" lengthAdjust="spacingAndGlyphs" xml:space="preserve">21 Sep 2020</text>
<text class="ax" x="953.2" y="936.6" textLength="53.5" lengthAdjust="spacingAndGlyphs" xml:space="preserve">30 Sep 2020</text>
<text class="ax" x="1017.2" y="936.6" textLength="46.2" lengthAdjust="spacingAndGlyphs" xml:space="preserve">9 Oct 2020</text>
<text class="ax" x="1081.2" y="936.6" textLength="51.4" lengthAdjust="spacingAndGlyphs" xml:space="preserve">19 Oct 2020</text>
<text class="ax" x="1145.2" y="936.6" textLength="51.4" lengthAdjust="spacingAndGlyphs" xml:space="preserve">28 Oct 2020</text>
<text class="ax" x="1209.2" y="936.6" textLength="48.3" lengthAdjust="spacingAndGlyphs" xml:space="preserve">6 Nov 2020</text>
<text class="ax" x="1273.2" y="936.6" textLength="53.5" lengthAdjust="spacingAndGlyphs" xml:space="preserve">16 Nov 2020</text>
<text class="ax" x="1337.2" y="936.6" textLength="53.5" lengthAdjust="spacingAndGlyphs" xml:space="preserve">25 Nov 2020</text>
<text class="ax" x="1401.2" y="936.6" textLength="48.3" lengthAdjust="spacingAndGlyphs" xml:space="preserve">4 Dec 2020</text>
<text class="ax" x="1465.2" y="936.6" textLength="53.5" lengthAdjust="spacingAndGlyphs" xml:space="preserve">14 Dec 2020</text>
<text class="ax" x="-2.2" y="591" textLength="148.4" lengthAdjust="spacingAndGlyphs" xml:space="preserve">MACD(12,26,9) 0.004634 0.004868</text>
<text class="ax" x="-3" y="763" textLength="68.7" lengthAdjust="spacingAndGlyphs" xml:space="preserve">RSI(14) 63.9991</text>
<text class="ax" x="9.4" y="34.7" textLength="213.2" lengthAdjust="spacingAndGlyphs" xml:space="preserve">GBPUSD-,Daily  1.34448 1.35529 1.34333 1.34992</text>
<path d="M0 30 L5 34.5 L0 34.5 Z" fill="#000"/>
<rect x="1327" y="76" width="190" height="7" fill="#00ff00" shape-rendering="crispEdges"/>
<g stroke="#ff0000" stroke-width="3" fill="#ff0000" shape-rendering="crispEdges">
<line x1="1405.8" y1="63.5" x2="1450" y2="183"/>
<line x1="1451.6" y1="187" x2="1498" y2="46"/>
<path stroke="none" d="M1451.3 189 L1442.8 178.3 L1452.2 174.3 Z"/>
<path stroke="none" d="M1499.9 40.8 L1491.6 50.8 L1500.8 53.6 Z"/>
</g>
<rect x="683.5" y="65.5" width="61" height="18" fill="#fff" stroke="#ff0000" stroke-width="1" shape-rendering="crispEdges"/>
<text x="686" y="81" font-family="Liberation Sans,sans-serif" font-size="16.9" fill="#ff0000" textLength="57" lengthAdjust="spacingAndGlyphs">1.34837</text>
<rect x="745" y="74" width="10" height="1" fill="#ff0000" shape-rendering="crispEdges"/>
<rect x="1331.5" y="46.5" width="61" height="18" fill="#fff" stroke="#ff0000" stroke-width="1" shape-rendering="crispEdges"/>
<text x="1334" y="62" font-family="Liberation Sans,sans-serif" font-size="16.9" fill="#ff0000" textLength="57" lengthAdjust="spacingAndGlyphs">1.35399</text>
<rect x="1393" y="55" width="10" height="1" fill="#ff0000" shape-rendering="crispEdges"/>
<rect x="835.5" y="345.5" width="61" height="18" fill="#fff" stroke="#ff0000" stroke-width="1" shape-rendering="crispEdges"/>
<text x="838" y="361" font-family="Liberation Sans,sans-serif" font-size="16.9" fill="#ff0000" textLength="57" lengthAdjust="spacingAndGlyphs">1.26781</text>
<rect x="897" y="354" width="10" height="1" fill="#ff0000" shape-rendering="crispEdges"/>
<rect x="1108.5" y="282.5" width="61" height="18" fill="#fff" stroke="#ff0000" stroke-width="1" shape-rendering="crispEdges"/>
<text x="1111" y="298" font-family="Liberation Sans,sans-serif" font-size="16.9" fill="#ff0000" textLength="57" lengthAdjust="spacingAndGlyphs">1.28586</text>
<rect x="1170" y="291" width="9" height="1" fill="#ff0000" shape-rendering="crispEdges"/>
<rect x="1173.5" y="67.5" width="73" height="24" fill="#fff" stroke="#ff0000" stroke-width="1" shape-rendering="crispEdges"/>
<text x="1175.6" y="88.1" font-family="Liberation Sans,sans-serif" font-size="22.5" fill="#ff0000" textLength="69.5" lengthAdjust="spacingAndGlyphs">1.34690</text>
<rect x="1163" y="79" width="8" height="1" fill="#ff0000" shape-rendering="crispEdges"/>
<rect x="1170.5" y="77.5" width="3" height="4" fill="#fff" stroke="#ff0000" stroke-width="1" shape-rendering="crispEdges"/>
<rect x="1523.5" y="80.5" width="110" height="24" fill="none" stroke="#404040" stroke-width="1" shape-rendering="crispEdges"/>
<text x="1524.6" y="99" font-family="Noto Serif CJK SC,Noto Sans CJK SC,serif" font-weight="300" font-size="19.8" fill="#00ff00" stroke="#00ff00" stroke-width="0.3" textLength="106" lengthAdjust="spacing">多空转折点</text>
<rect x="1524" y="97" width="109" height="1" fill="#0000ff" shape-rendering="crispEdges"/>
<path d="M1575.5 79 L1577.5 77 L1579.5 79" fill="#fff" stroke="#32cd32" stroke-width="1"/>
<path d="M1492 24.5 L1501.5 24.5 L1496.7 29 Z" fill="#c0c0c0"/>
<g fill="#000" shape-rendering="crispEdges"><rect x="4" y="142" width="1" height="1"/><rect x="3" y="143" width="1" height="1"/><rect x="5" y="143" width="1" height="1"/><rect x="4" y="144" width="1" height="1"/></g>
<defs>
<linearGradient id="gS" x1="0" y1="0" x2="0" y2="1"><stop offset="0" stop-color="#f25a5a"/><stop offset="1" stop-color="#d63434"/></linearGradient>
<linearGradient id="gB" x1="0" y1="0" x2="0" y2="1"><stop offset="0" stop-color="#d83030"/><stop offset="1" stop-color="#b00000"/></linearGradient>
<linearGradient id="gBtn" x1="0" y1="0" x2="0" y2="1"><stop offset="0" stop-color="#f4f4f4"/><stop offset="1" stop-color="#cfcfcf"/></linearGradient>
</defs>
<rect x="0" y="43" width="217" height="64" fill="#fff"/>
<rect x="0" y="43" width="48" height="24" fill="url(#gS)"/>
<rect x="165" y="43" width="51" height="24" fill="url(#gS)"/>
<rect x="0" y="67" width="106" height="40" fill="url(#gB)"/>
<rect x="108" y="67" width="108" height="40" fill="url(#gB)"/>
<rect x="1" y="66" width="44" height="1" fill="#f7a0a0" opacity=".8"/><rect x="168" y="66" width="44" height="1" fill="#f7a0a0" opacity=".8"/>
<rect x="51.5" y="43.5" width="110" height="21" fill="#fff" stroke="#9aa0b0" stroke-width="1"/>
<rect x="53" y="45" width="19" height="18" fill="url(#gBtn)" stroke="#b8b8b8" stroke-width=".6"/>
<rect x="141" y="45" width="19" height="18" fill="url(#gBtn)" stroke="#b8b8b8" stroke-width=".6"/>
<path d="M59 52 L64.5 52 L61.7 55.5 Z" fill="#5a6fc0"/><path d="M147.8 55.5 L153.3 55.5 L150.5 52 Z" fill="#5a6fc0"/>
<text x="136.5" y="58.3" text-anchor="end" font-family="Liberation Sans,sans-serif" font-size="12.5" fill="#000">1.00</text>
<text x="9.3" y="58.6" font-family="Liberation Sans,sans-serif" font-size="11.6" fill="#fff" textLength="25.6" lengthAdjust="spacingAndGlyphs">SELL</text>
<text x="177.6" y="58.6" font-family="Liberation Sans,sans-serif" font-size="11.6" fill="#fff" textLength="22.6" lengthAdjust="spacingAndGlyphs">BUY</text>
<g font-family="Liberation Sans,sans-serif" fill="#fff">
<text x="17.3" y="97.7" font-size="12.5" font-weight="bold" textLength="23.6" lengthAdjust="spacingAndGlyphs">1.34</text>
<text x="44.5" y="97.7" font-size="33" textLength="34.5" lengthAdjust="spacingAndGlyphs">99</text>
<text x="83.8" y="81.8" font-size="12.5" font-weight="bold">2</text>
<text x="127.4" y="97.7" font-size="12.5" font-weight="bold" textLength="23.6" lengthAdjust="spacingAndGlyphs">1.35</text>
<text x="154.7" y="97.7" font-size="33" textLength="34.5" lengthAdjust="spacingAndGlyphs">02</text>
<text x="194.8" y="81.8" font-size="12.5" font-weight="bold">0</text>
</g>
<rect x="0" y="0" width="1731" height="18" fill="#f0f0f0"/>
<g shape-rendering="crispEdges"><rect x="0" y="18" width="1731" height="1" fill="#d8d8d8"/><rect x="0" y="19" width="1731" height="1" fill="#a8a8a8"/><rect x="0" y="20" width="1731" height="1" fill="#6c6c6c"/>
<rect x="1730" y="21" width="1" height="918" fill="#f0f0f0"/></g>
<rect x="-3" y="-3" width="10.5" height="16" fill="#fff" stroke="#3a78c0" stroke-width="1.4"/><path d="M0 3.5H6M0 6H6M0 8.5H6" stroke="#bcd4f0" stroke-width="1"/>
<rect x="20.5" y="-2" width="12" height="14" fill="#fbfbf8" stroke="#b8b0a0" stroke-width="1"/>
<path d="M24 1v5M30 1v5M23 3h3M29 2h3" stroke="#8a8a8a" stroke-width="1"/>
<line x1="32" y1="11.5" x2="37" y2="16" stroke="#c89a20" stroke-width="2.6"/>
<circle cx="28.2" cy="7.6" r="4.6" fill="#dbe9f8" fill-opacity=".85" stroke="#6a9fdc" stroke-width="1.3"/>
<rect x="45" y="0" width="1" height="17" fill="#a0a0a0" shape-rendering="crispEdges"/>
<path d="M55.5 -2 H63.5 L67 1.5 V12.5 H55.5 Z" fill="#fdfdfd" stroke="#8c8c8c" stroke-width="1"/><path d="M58 3h4M58 6h6M58 8.5h5" stroke="#9a9a9a" stroke-width="1"/>
<path d="M63 5.5 h4 v3.3 h3.4 v4 h-3.4 v3.4 h-4 v-3.4 h-3.4 v-4 h3.4 Z" fill="#2fc02f" stroke="#0d7a0d" stroke-width=".9"/>
<text x="73.4" y="9.6" class="cj" font-size="12" fill="#000" textLength="36.4" lengthAdjust="spacing">新订单</text>
<path d="M129 -1 L138.3 8.4 L131.8 15.2 L121.7 8.3 Z" fill="#c88a14" stroke="#9a6808" stroke-width=".8"/><path d="M129 -1.5 L137.8 7 L131.6 13 L122.2 7.2 Z" fill="#eab83a"/><path d="M128.6 0.5 L134.5 6.5 L131 10.5 L124.5 6.6 Z" fill="#f6d878" opacity=".8"/>
<rect x="153" y="-2" width="10" height="9" fill="#3f8fe0" stroke="#2a68b8" stroke-width="1"/><rect x="155" y="2" width="6" height="2" fill="#cfe4fa"/>
<path d="M151 13.5 a3 3 0 0 1 1.5 -5.6 a3.6 3.6 0 0 1 6.6 -1 a3.3 3.3 0 0 1 5.4 3 a2.2 2.2 0 0 1 0 3.6 Z" fill="#e4ecf8" stroke="#8ea6c8" stroke-width="1"/>
<g fill="none" stroke-width="1.2"><path d="M186 -0.5 a7.8 7.8 0 0 0 -4 14.5" stroke="#5f8fe0"/><path d="M186 2.5 a4.9 4.9 0 0 0 -2.6 9" stroke="#5f8fe0"/><path d="M186 -0.5 a7.8 7.8 0 0 1 1 15.5" stroke="#7fbf8f"/><path d="M186 2.5 a4.9 4.9 0 0 1 .6 9.7" stroke="#7fbf8f"/></g>
<circle cx="186" cy="7.2" r="1.8" fill="#2a5fd0"/><rect x="185.4" y="7.5" width="1.4" height="7.5" fill="#2aa02a"/>
<path d="M206 5.5 L221 5.5 L214 15 L211.5 15 Z" fill="#f3d24a" stroke="#c8a020" stroke-width=".8"/>
<path d="M205.5 4.5 q3 -1.5 5 -1.8 l1.5 -4 h3.5 l1.5 4 q2.5 .4 4.5 1.8 q-8 3.4 -16 0 Z" fill="#58a6ea" stroke="#3a80c8" stroke-width=".8"/>
<circle cx="217.6" cy="10.8" r="4" fill="#e02818"/><rect x="215.9" y="9.1" width="3.4" height="3.4" fill="#fff"/>
<text x="226.4" y="9.6" class="cj" font-size="12" fill="#000" textLength="46.8" lengthAdjust="spacing">自动交易</text>
<rect x="281" y="0" width="1" height="17" fill="#c8c8c8" shape-rendering="crispEdges"/>
<rect x="282" y="0" width="1" height="17" fill="#fff" shape-rendering="crispEdges"/>
<g shape-rendering="crispEdges" fill="#b0b0b0"><rect x="285" y="1" width="3" height="1"/><rect x="285" y="3" width="3" height="1"/><rect x="285" y="5" width="3" height="1"/><rect x="285" y="7" width="3" height="1"/><rect x="285" y="9" width="3" height="1"/><rect x="285" y="11" width="3" height="1"/><rect x="285" y="13" width="3" height="1"/><rect x="285" y="15" width="3" height="1"/></g>
<g stroke="#505050" stroke-width="1" fill="#505050" shape-rendering="crispEdges"><line x1="299.5" y1="1.5" x2="299.5" y2="15"/><line x1="297" y1="13.5" x2="310.5" y2="13.5"/></g>
<path d="M299.5 0.5 L297.5 3.5 L301.5 3.5 Z M312.0 13.5 L309.5 11.5 L309.5 15.5 Z" fill="#505050"/>
<path d="M306.5 2.5 V10.5 M306.5 3.5 H308.5 M304 9.5 H306.5" stroke="#1f9f2f" stroke-width="1.2" fill="none"/>
<rect x="319" y="0" width="1" height="17" fill="#a0a0a0" shape-rendering="crispEdges"/>
<rect x="320" y="0" width="24" height="17" fill="#f8f8f8"/>
<g stroke="#505050" stroke-width="1" fill="#505050" shape-rendering="crispEdges"><line x1="327.5" y1="1.5" x2="327.5" y2="15"/><line x1="325" y1="13.5" x2="338.5" y2="13.5"/></g>
<path d="M327.5 0.5 L325.5 3.5 L329.5 3.5 Z M340.0 13.5 L337.5 11.5 L337.5 15.5 Z" fill="#505050"/>
<rect x="333.2" y="0" width="1" height="11" fill="#0a7a0a"/><rect x="331.5" y="1" width="4.4" height="7.8" fill="#28d038" stroke="#0a8a1a" stroke-width=".8"/>
<g stroke="#505050" stroke-width="1" fill="#505050" shape-rendering="crispEdges"><line x1="355.5" y1="1.5" x2="355.5" y2="15"/><line x1="353" y1="13.5" x2="366.5" y2="13.5"/></g>
<path d="M355.5 0.5 L353.5 3.5 L357.5 3.5 Z M368.0 13.5 L365.5 11.5 L365.5 15.5 Z" fill="#505050"/>
<path d="M355.5 10 Q359.5 2.5 362.5 4.5 T367 8.5" stroke="#2a9a3a" stroke-width="1.2" fill="none"/>
<rect x="376" y="0" width="1" height="17" fill="#a0a0a0" shape-rendering="crispEdges"/>
<line x1="395.09999999999997" y1="9.4" x2="400.2" y2="13.600000000000001" stroke="#d4aa30" stroke-width="2.8"/>
<circle cx="390.9" cy="5.2" r="5.3" fill="#d6e8fa" stroke="#3f8fe0" stroke-width="1.4"/>
<path d="M387.9 5.2h6 M390.9 2.2v6" stroke="#3a7fd0" stroke-width="1.6" fill="none"/>
<line x1="423.09999999999997" y1="9.0" x2="428.2" y2="13.2" stroke="#d4aa30" stroke-width="2.8"/>
<circle cx="418.9" cy="4.8" r="5.3" fill="#d6e8fa" stroke="#3f8fe0" stroke-width="1.4"/>
<path d="M415.9 4.8h6" stroke="#3a7fd0" stroke-width="1.6" fill="none"/>
<rect x="441.5" y="-1" width="7.6" height="7.4" fill="#3aa030"/><rect x="449.6" y="-1" width="7.6" height="7.4" fill="#2a62d0"/><rect x="441.5" y="7" width="7.6" height="7.4" fill="#2a62d0"/><rect x="449.6" y="7" width="7.6" height="7.4" fill="#3aa030"/>
<g fill="#eef4ff"><rect x="443" y="2" width="4.6" height="3.2"/><rect x="451.1" y="2" width="4.6" height="3.2"/><rect x="443" y="10" width="4.6" height="3.2"/><rect x="451.1" y="10" width="4.6" height="3.2"/></g>
<rect x="466" y="0" width="1" height="17" fill="#a0a0a0" shape-rendering="crispEdges"/>
<rect x="472" y="0" width="24" height="17" fill="#f8f8f8"/>
<rect x="471" y="0" width="1" height="17" fill="#b8b8b8" shape-rendering="crispEdges"/>
<g stroke="#505050" stroke-width="1" fill="#505050" shape-rendering="crispEdges"><line x1="479.5" y1="1.5" x2="479.5" y2="15"/><line x1="477" y1="13.5" x2="490" y2="13.5"/></g>
<path d="M479.5 0.5 L477.5 3.5 L481.5 3.5 Z M491.5 13.5 L489 11.5 L489 15.5 Z" fill="#505050"/>
<path d="M484.2 3.4 L488.4 6.6 L484.2 9.8 Z" fill="#3ac03a" stroke="#1a8a1a" stroke-width=".8"/>
<rect x="499" y="0" width="1" height="17" fill="#a0a0a0" shape-rendering="crispEdges"/>
<rect x="500" y="0" width="23" height="17" fill="#f8f8f8"/>
<g stroke="#505050" stroke-width="1" fill="#505050" shape-rendering="crispEdges"><line x1="507.5" y1="1.5" x2="507.5" y2="15"/><line x1="505" y1="13.5" x2="518" y2="13.5"/></g>
<path d="M507.5 0.5 L505.5 3.5 L509.5 3.5 Z M519.5 13.5 L517 11.5 L517 15.5 Z" fill="#505050"/>
<rect x="513" y="1" width="1.2" height="10.5" fill="#2a6ad0"/><path d="M515 6.5 L519.3 6.5 M515 6.5 l2.2 -2.2 M515 6.5 l2.2 2.2" stroke="#e04a10" stroke-width="1.1" fill="none"/>
<rect x="528" y="0" width="1" height="17" fill="#a0a0a0" shape-rendering="crispEdges"/>
<path d="M538.5 -2 H546 L549 1 V11.5 H538.5 Z" fill="#fdfdfd" stroke="#8c8c8c" stroke-width="1"/><path d="M541.5 2.5v6M540.5 4h2" stroke="#6a6a4a" stroke-width="1"/>
<path d="M546 5.2 h4 v3.6 h3.6 v4 h-3.6 v3.6 h-4 v-3.6 h-3.6 v-4 h3.6 Z" fill="#2fc02f" stroke="#0d7a0d" stroke-width=".9"/>
<path d="M560 6.3 L565.4 6.3 L562.7 9.2 Z" fill="#000"/>
<circle cx="584.2" cy="6.6" r="6.9" fill="#fff" stroke="#2a74d8" stroke-width="2.2"/><path d="M584.2 3v4h3.2" stroke="#606060" stroke-width="1" fill="none"/>
<path d="M599 6.3 L604.4 6.3 L601.7 9.2 Z" fill="#000"/>
<rect x="615.5" y="-1" width="15" height="14.5" fill="#fff" stroke="#3a78d0" stroke-width="1"/><rect x="615.5" y="-1" width="15" height="3.2" fill="#4a8ae0"/><line x1="616" y1="8.2" x2="630" y2="8.2" stroke="#8aa8d8" stroke-width=".8"/>
<path d="M617.5 6.4 l2.5 -1.2 l2.5 .6 l2.5 -1.6 l2.5 .4 l1.5 -1" stroke="#c03a20" stroke-width="1" fill="none"/><path d="M617.5 11.8 l2.5 -1.2 l2.5 .8 l2.5 -1.8 l3 1.8" stroke="#2a9a3a" stroke-width="1" fill="none"/>
<path d="M638 6.3 L643.4 6.3 L640.7 9.2 Z" fill="#000"/>
<rect x="649" y="0" width="1" height="17" fill="#a0a0a0" shape-rendering="crispEdges"/>
<g shape-rendering="crispEdges" fill="#b0b0b0"><rect x="653" y="1" width="3" height="1"/><rect x="653" y="3" width="3" height="1"/><rect x="653" y="5" width="3" height="1"/><rect x="653" y="7" width="3" height="1"/><rect x="653" y="9" width="3" height="1"/><rect x="653" y="11" width="3" height="1"/><rect x="653" y="13" width="3" height="1"/><rect x="653" y="15" width="3" height="1"/></g>
<rect x="659" y="0" width="1" height="17" fill="#a0a0a0" shape-rendering="crispEdges"/>
<rect x="660" y="0" width="24" height="17" fill="#f8f8f8"/>
<path d="M667.5 -1 L667.5 11 L670.4 8.4 L672.8 14 L674.8 13.2 L672.4 7.8 L676.2 7.8 Z" fill="#505050"/>
<path d="M692 7.5H707 M699.5 0V15" stroke="#505050" stroke-width="1" fill="none" shape-rendering="crispEdges"/>
<rect x="716" y="0" width="1" height="17" fill="#a0a0a0" shape-rendering="crispEdges"/>
<g stroke="#505050" stroke-width="1" fill="none"><path d="M733.5 1V14" shape-rendering="crispEdges"/><path d="M756 7.5H768" shape-rendering="crispEdges"/><path d="M783.6 14 L795.8 1.8"/>
<path d="M810 9.5 L822 1 M811.5 13 L824 4.2 M813 7.5 l2.5 4.5 M817 4.5 l2.5 4.6 M820.6 2 l2.4 4.4"/>
</g>
<text x="820.3" y="15.6" font-family="Liberation Sans,sans-serif" font-size="6.6" font-weight="bold" fill="#404040">E</text>
<g stroke="#505050" stroke-width="1" stroke-dasharray="1 1" shape-rendering="crispEdges"><path d="M839 0.5H852M839 4.5H852M839 8.5H852M839 12.5H847"/></g>
<text x="848.3" y="15.6" font-family="Liberation Sans,sans-serif" font-size="6.6" font-weight="bold" fill="#404040">F</text>
<text x="869.3" y="11.6" font-family="Liberation Sans,sans-serif" font-size="12.2" fill="#505050">A</text>
<rect x="896.5" y="0.5" width="11" height="13" fill="none" stroke="#505050" stroke-width="1" stroke-dasharray="1 1" shape-rendering="crispEdges"/>
<text x="898.3" y="11.6" font-family="Liberation Sans,sans-serif" font-size="11.5" font-weight="bold" fill="#505050">T</text>
<path d="M926.5 1 l3 3 l-3 3 l-3 -3 Z M933.5 8 l3 3 l-3 3 l-3 -3 Z" fill="#505050"/><path d="M925.5 8.5 l2 2.2 l4.5 -6" stroke="#505050" stroke-width="1.1" fill="none"/>
<path d="M944 6.3 L949.4 6.3 L946.7 9.2 Z" fill="#000"/>
<rect x="955" y="0" width="1" height="17" fill="#a0a0a0" shape-rendering="crispEdges"/>
<g shape-rendering="crispEdges" fill="#b0b0b0"><rect x="959" y="1" width="3" height="1"/><rect x="959" y="3" width="3" height="1"/><rect x="959" y="5" width="3" height="1"/><rect x="959" y="7" width="3" height="1"/><rect x="959" y="9" width="3" height="1"/><rect x="959" y="11" width="3" height="1"/><rect x="959" y="13" width="3" height="1"/><rect x="959" y="15" width="3" height="1"/></g>
<rect x="1133" y="0" width="1" height="17" fill="#a0a0a0" shape-rendering="crispEdges"/>
<rect x="1134" y="0" width="24" height="17" fill="#f8f8f8"/>
<text x="970.6" y="11" font-family="Liberation Sans,sans-serif" font-size="9.33" fill="#404040" textLength="12.6" lengthAdjust="spacingAndGlyphs">M1</text>
<text x="998.6" y="11" font-family="Liberation Sans,sans-serif" font-size="9.33" fill="#404040" textLength="12.6" lengthAdjust="spacingAndGlyphs">M5</text>
<text x="1024.3" y="11" font-family="Liberation Sans,sans-serif" font-size="9.33" fill="#404040" textLength="17.8" lengthAdjust="spacingAndGlyphs">M15</text>
<text x="1052.4" y="11" font-family="Liberation Sans,sans-serif" font-size="9.33" fill="#404040" textLength="17.9" lengthAdjust="spacingAndGlyphs">M30</text>
<text x="1083.6" y="11" font-family="Liberation Sans,sans-serif" font-size="9.33" fill="#404040" textLength="11.6" lengthAdjust="spacingAndGlyphs">H1</text>
<text x="1110.6" y="11" font-family="Liberation Sans,sans-serif" font-size="9.33" fill="#404040" textLength="12.4" lengthAdjust="spacingAndGlyphs">H4</text>
<text x="1139.5" y="11" font-family="Liberation Sans,sans-serif" font-size="9.33" fill="#404040" textLength="11.6" lengthAdjust="spacingAndGlyphs">D1</text>
<text x="1167" y="11" font-family="Liberation Sans,sans-serif" font-size="9.33" fill="#404040" textLength="14.2" lengthAdjust="spacingAndGlyphs">W1</text>
<text x="1193.6" y="11" font-family="Liberation Sans,sans-serif" font-size="9.33" fill="#404040" textLength="14.5" lengthAdjust="spacingAndGlyphs">MN</text>
<rect x="1216" y="0" width="1" height="17" fill="#a0a0a0" shape-rendering="crispEdges"/>
<line x1="1683.4" y1="7.8" x2="1679.4" y2="11.7" stroke="#2c5fd0" stroke-width="2.6"/><circle cx="1686.4" cy="4.4" r="3.6" fill="#fbfbff" stroke="#2c5fd0" stroke-width="1.3"/>
<path d="M1704 9 a5.4 4.6 0 0 1 10.6 0 a5.4 4.6 0 0 1 -6.2 4.4 l-2 2.4 l.2 -2.8 a5 4.4 0 0 1 -2.6 -4 Z" fill="#dcdce6" stroke="#a8a8a8" stroke-width="1"/>
<circle cx="1717.6" cy="4.2" r="8.3" fill="#e2341f"/><text x="1713.6" y="9" font-family="Liberation Serif,serif" font-weight="bold" font-size="13.5" fill="#fff">1</text>
</svg></body></html>
